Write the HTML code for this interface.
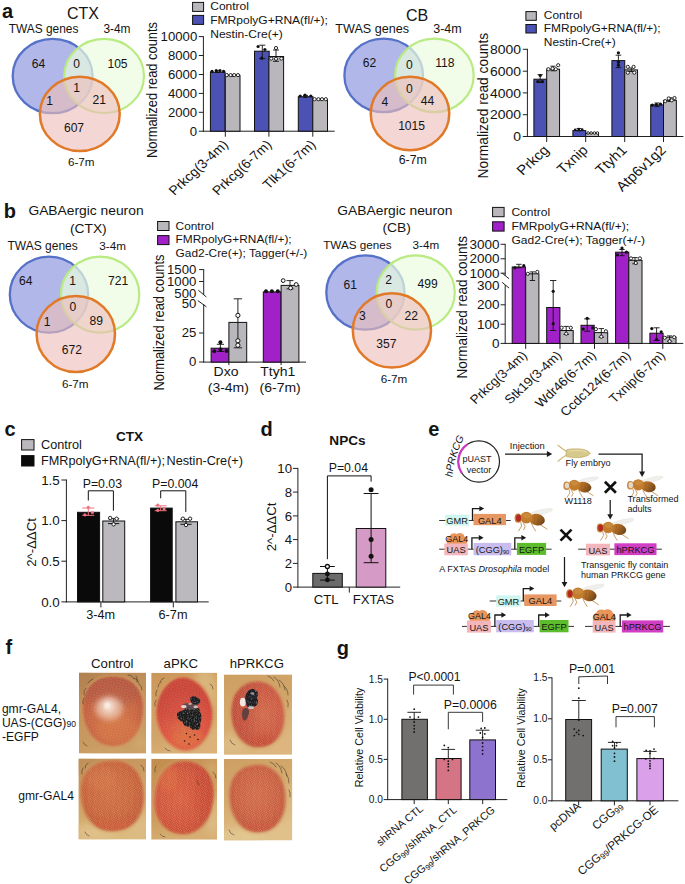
<!DOCTYPE html>
<html><head><meta charset="utf-8"><title>Figure</title>
<style>
html,body{margin:0;padding:0;background:#fff;}
svg{display:block;font-family:"Liberation Sans",sans-serif;}
</style></head><body>
<svg width="685" height="884" viewBox="0 0 685 884">
<rect width="685" height="884" fill="#fff"/>
<defs>
<linearGradient id="abd" x1="0" x2="1" y1="0" y2="0.3"><stop offset="0" stop-color="#c27c2c"/><stop offset="0.5" stop-color="#b06c26"/><stop offset="1" stop-color="#74481a"/></linearGradient>
<g id="flybody">
<ellipse cx="26.9" cy="3.5" rx="12" ry="2.3" transform="rotate(-13 26.9 3.5)" fill="rgba(228,224,217,0.5)" stroke="rgba(185,180,170,0.4)" stroke-width="0.4"/>
<path d="M6.6,13.5 L7.4,17.5 L4.4,22.3 M17.1,14.5 L18.8,18.3 L21.4,22.3 M25.8,16 L32.8,20.5 M9,14 L11,18 L9.5,21" fill="none" stroke="#bf8a4a" stroke-width="0.85" stroke-linecap="round"/>
<ellipse cx="22.8" cy="11.1" rx="8" ry="5.7" transform="rotate(12 22.8 11.1)" fill="url(#abd)"/>
<path d="M21,6.2 L19.8,15 M24,6.4 L23,16 M27,7.4 L26.3,16.3" stroke="#8d5a1f" stroke-width="0.7" fill="none" opacity="0.7"/>
<ellipse cx="12.2" cy="9.1" rx="6" ry="5.9" fill="#c17c2d"/>
<ellipse cx="12.5" cy="7" rx="4" ry="2.6" fill="#cf9444" opacity="0.6"/>
<ellipse cx="3.9" cy="9.6" rx="3.5" ry="4.6" fill="#c38238"/>
</g>
<g id="flyR"><use href="#flybody"/><ellipse cx="4.3" cy="9.5" rx="2.5" ry="3.5" fill="#b5271f"/></g>
<g id="flyW"><use href="#flybody"/><ellipse cx="4.3" cy="9.5" rx="2.4" ry="3.3" fill="#e6d8c6"/></g>
<path id="hp" d="M452.3,477.2 Q453.9,457.2 464.8,436.4"/>
</defs><defs>
<filter id="bl1" x="-30%" y="-30%" width="160%" height="160%"><feGaussianBlur stdDeviation="1.2"/></filter>
<filter id="bl2" x="-40%" y="-40%" width="180%" height="180%"><feGaussianBlur stdDeviation="2.5"/></filter>
<filter id="bl05" x="-20%" y="-20%" width="140%" height="140%"><feGaussianBlur stdDeviation="0.55"/></filter>
<filter id="bl08" x="-20%" y="-20%" width="140%" height="140%"><feGaussianBlur stdDeviation="0.9"/></filter>
<filter id="bl4" x="-60%" y="-60%" width="220%" height="220%"><feGaussianBlur stdDeviation="4.5"/></filter>
<filter id="grain" x="0" y="0" width="100%" height="100%"><feTurbulence type="fractalNoise" baseFrequency="0.38" numOctaves="2" seed="4"/><feColorMatrix type="matrix" values="0 0 0 0 0.40  0 0 0 0 0.10  0 0 0 0 0.06  2.6 2.2 0 0 -2.1"/></filter>
<filter id="grainW" x="0" y="0" width="100%" height="100%"><feTurbulence type="fractalNoise" baseFrequency="0.7" numOctaves="2" seed="11"/><feColorMatrix type="matrix" values="0 0 0 0 1  0 0 0 0 0.95  0 0 0 0 0.9  0 1.8 1.6 0 -1.5"/></filter>
<filter id="grainK" x="0" y="0" width="100%" height="100%"><feTurbulence type="fractalNoise" baseFrequency="0.55" numOctaves="2" seed="21"/><feColorMatrix type="matrix" values="0 0 0 0 0.78  0 0 0 0 0.78  0 0 0 0 0.8  2.2 1.6 0 0 -1.8"/></filter>
<pattern id="omm" width="2.5" height="2.16" patternUnits="userSpaceOnUse" patternTransform="rotate(-14)"><circle cx="0.62" cy="0.54" r="0.5" fill="#f2b888"/><circle cx="1.87" cy="1.62" r="0.5" fill="#f2b888"/></pattern>
<pattern id="omm2" width="3.0" height="2.6" patternUnits="userSpaceOnUse" patternTransform="rotate(10)"><circle cx="0.75" cy="0.65" r="0.5" fill="#fae0c8"/><circle cx="2.25" cy="1.95" r="0.5" fill="#fae0c8"/></pattern>
</defs><text x="1.9" y="17.6" font-size="20" text-anchor="start" font-weight="bold" fill="#141414" >a</text>
<text x="83" y="18.8" font-size="16" text-anchor="middle" fill="#141414" >CTX</text>
<ellipse cx="52.6" cy="76" rx="39.9" ry="37.2" fill="#b1b7e8" stroke="#5672c8" stroke-width="2.3"/>
<ellipse cx="104.1" cy="76" rx="39.9" ry="37.2" fill="rgba(235,252,224,0.7)" stroke="#b8eb82" stroke-width="2.2"/>
<ellipse cx="79.8" cy="113.9" rx="39.9" ry="37.2" fill="rgba(237,189,186,0.62)" stroke="#e17a28" stroke-width="2.5"/>
<text x="8.8" y="32.8" font-size="11.9" text-anchor="start" fill="#141414" >TWAS genes</text>
<text x="103.4" y="32.8" font-size="11.9" text-anchor="start" fill="#141414" >3-4m</text>
<text x="81.3" y="166.4" font-size="11.7" text-anchor="middle" fill="#141414" >6-7m</text>
<text x="38.5" y="67.6" font-size="12.1" text-anchor="middle" fill="#141414" >64</text>
<text x="76.6" y="68.4" font-size="12.1" text-anchor="middle" fill="#141414" >0</text>
<text x="117.5" y="67.6" font-size="12.1" text-anchor="middle" fill="#141414" >105</text>
<text x="76.6" y="92.4" font-size="12.1" text-anchor="middle" fill="#141414" >1</text>
<text x="49.5" y="104.6" font-size="12.1" text-anchor="middle" fill="#141414" >1</text>
<text x="99.3" y="104.1" font-size="12.1" text-anchor="middle" fill="#141414" >21</text>
<text x="74" y="131.9" font-size="12.1" text-anchor="middle" fill="#141414" >607</text>
<line x1="203.4" y1="36.1" x2="203.4" y2="131.7" stroke="#222" stroke-width="1" />
<line x1="198.8" y1="36.6" x2="203.4" y2="36.6" stroke="#222" stroke-width="1" />
<text transform="translate(197.2 40.99) scale(1.08 1)" font-size="12.2" text-anchor="end" fill="#141414" >10000</text>
<line x1="198.8" y1="55.5" x2="203.4" y2="55.5" stroke="#222" stroke-width="1" />
<text transform="translate(197.2 59.89) scale(1.08 1)" font-size="12.2" text-anchor="end" fill="#141414" >8000</text>
<line x1="198.8" y1="74.5" x2="203.4" y2="74.5" stroke="#222" stroke-width="1" />
<text transform="translate(197.2 78.89) scale(1.08 1)" font-size="12.2" text-anchor="end" fill="#141414" >6000</text>
<line x1="198.8" y1="93.4" x2="203.4" y2="93.4" stroke="#222" stroke-width="1" />
<text transform="translate(197.2 97.79) scale(1.08 1)" font-size="12.2" text-anchor="end" fill="#141414" >4000</text>
<line x1="198.8" y1="112.3" x2="203.4" y2="112.3" stroke="#222" stroke-width="1" />
<text transform="translate(197.2 116.69) scale(1.08 1)" font-size="12.2" text-anchor="end" fill="#141414" >2000</text>
<line x1="198.8" y1="131.2" x2="203.4" y2="131.2" stroke="#222" stroke-width="1" />
<text transform="translate(197.2 135.59) scale(1.08 1)" font-size="12.2" text-anchor="end" fill="#141414" >0</text>
<line x1="202.9" y1="131.2" x2="334.7" y2="131.2" stroke="#222" stroke-width="1" />
<text transform="translate(156.6 90) scale(1.1 1) rotate(-90)" font-size="12.9" text-anchor="middle" fill="#141414" >Normalized read counts</text>
<rect x="210.40" y="72.30" width="14.70" height="58.90" fill="#4b52b3" stroke="#111" stroke-width="1" />
<rect x="225.30" y="75.50" width="14.70" height="55.70" fill="#b9b7bb" stroke="#111" stroke-width="1" />
<rect x="254.50" y="51.20" width="14.70" height="80.00" fill="#4b52b3" stroke="#111" stroke-width="1" />
<rect x="268.90" y="56.50" width="14.70" height="74.70" fill="#b9b7bb" stroke="#111" stroke-width="1" />
<rect x="298.30" y="96.70" width="14.70" height="34.50" fill="#4b52b3" stroke="#111" stroke-width="1" />
<rect x="312.80" y="99.40" width="14.70" height="31.80" fill="#b9b7bb" stroke="#111" stroke-width="1" />
<line x1="225.3" y1="131.2" x2="225.3" y2="136.7" stroke="#222" stroke-width="1" />
<line x1="268.9" y1="131.2" x2="268.9" y2="136.7" stroke="#222" stroke-width="1" />
<line x1="312.8" y1="131.2" x2="312.8" y2="136.7" stroke="#222" stroke-width="1" />
<line x1="217.5" y1="70.6" x2="217.5" y2="72.3" stroke="#111" stroke-width="0.9" />
<line x1="215.0" y1="70.6" x2="220.0" y2="70.6" stroke="#111" stroke-width="0.9" />
<line x1="215.0" y1="72.3" x2="220.0" y2="72.3" stroke="#111" stroke-width="0.9" />
<line x1="232.5" y1="74.6" x2="232.5" y2="76.2" stroke="#111" stroke-width="0.9" />
<line x1="230.0" y1="74.6" x2="235.0" y2="74.6" stroke="#111" stroke-width="0.9" />
<line x1="230.0" y1="76.2" x2="235.0" y2="76.2" stroke="#111" stroke-width="0.9" />
<circle cx="212.00" cy="71.30" r="1.6" fill="#111"/>
<circle cx="216.20" cy="70.70" r="1.6" fill="#111"/>
<circle cx="220.00" cy="70.70" r="1.6" fill="#111"/>
<circle cx="223.60" cy="71.30" r="1.6" fill="#111"/>
<circle cx="226.80" cy="75.10" r="1.6" fill="#fff" stroke="#111" stroke-width="0.9"/>
<circle cx="230.60" cy="75.10" r="1.6" fill="#fff" stroke="#111" stroke-width="0.9"/>
<circle cx="234.20" cy="75.10" r="1.6" fill="#fff" stroke="#111" stroke-width="0.9"/>
<circle cx="238.00" cy="75.10" r="1.6" fill="#fff" stroke="#111" stroke-width="0.9"/>
<line x1="262.3" y1="45.2" x2="262.3" y2="58.6" stroke="#111" stroke-width="0.9" />
<line x1="259.3" y1="45.2" x2="265.3" y2="45.2" stroke="#111" stroke-width="0.9" />
<line x1="259.3" y1="58.6" x2="265.3" y2="58.6" stroke="#111" stroke-width="0.9" />
<circle cx="258.10" cy="46.50" r="1.6" fill="#111"/>
<circle cx="264.90" cy="49.50" r="1.6" fill="#111"/>
<circle cx="261.70" cy="58.20" r="1.6" fill="#111"/>
<line x1="276" y1="50" x2="276" y2="61.3" stroke="#111" stroke-width="0.9" />
<line x1="273" y1="50" x2="279" y2="50" stroke="#111" stroke-width="0.9" />
<line x1="273" y1="61.3" x2="279" y2="61.3" stroke="#111" stroke-width="0.9" />
<circle cx="276.00" cy="48.00" r="1.6" fill="#fff" stroke="#111" stroke-width="0.9"/>
<circle cx="271.20" cy="58.60" r="1.6" fill="#fff" stroke="#111" stroke-width="0.9"/>
<circle cx="276.00" cy="58.80" r="1.6" fill="#fff" stroke="#111" stroke-width="0.9"/>
<circle cx="281.40" cy="58.60" r="1.6" fill="#fff" stroke="#111" stroke-width="0.9"/>
<line x1="305.5" y1="95.4" x2="305.5" y2="97.4" stroke="#111" stroke-width="0.9" />
<line x1="303.0" y1="95.4" x2="308.0" y2="95.4" stroke="#111" stroke-width="0.9" />
<line x1="303.0" y1="97.4" x2="308.0" y2="97.4" stroke="#111" stroke-width="0.9" />
<line x1="320" y1="98.6" x2="320" y2="100" stroke="#111" stroke-width="0.9" />
<line x1="317.5" y1="98.6" x2="322.5" y2="98.6" stroke="#111" stroke-width="0.9" />
<line x1="317.5" y1="100" x2="322.5" y2="100" stroke="#111" stroke-width="0.9" />
<circle cx="300.20" cy="96.00" r="1.6" fill="#111"/>
<circle cx="305.00" cy="95.20" r="1.6" fill="#111"/>
<circle cx="310.80" cy="96.00" r="1.6" fill="#111"/>
<circle cx="314.60" cy="99.20" r="1.6" fill="#fff" stroke="#111" stroke-width="0.9"/>
<circle cx="318.40" cy="99.20" r="1.6" fill="#fff" stroke="#111" stroke-width="0.9"/>
<circle cx="322.00" cy="99.20" r="1.6" fill="#fff" stroke="#111" stroke-width="0.9"/>
<circle cx="325.80" cy="99.20" r="1.6" fill="#fff" stroke="#111" stroke-width="0.9"/>
<rect x="192.60" y="2.40" width="11.00" height="9.00" fill="#b9b7bb" stroke="#111" stroke-width="1" />
<rect x="192.60" y="15.40" width="11.00" height="9.00" fill="#4b52b3" stroke="#111" stroke-width="1" />
<text transform="translate(210.2 10.3) scale(1.08 1)" font-size="11.15" text-anchor="start" fill="#141414" >Control</text>
<text transform="translate(210.2 23.8) scale(1.08 1)" font-size="11.15" text-anchor="start" fill="#141414" >FMRpolyG+RNA(fl/+);</text>
<text transform="translate(210.2 38) scale(1.08 1)" font-size="11.15" text-anchor="start" fill="#141414" >Nestin-Cre(+)</text>
<text transform="translate(229 145.5) scale(1.08 1) rotate(-45)" font-size="13" text-anchor="end" fill="#141414" >Prkcg(3-4m)</text>
<text transform="translate(272.5 145.5) scale(1.08 1) rotate(-45)" font-size="13" text-anchor="end" fill="#141414" >Prkcg(6-7m)</text>
<text transform="translate(316.5 145.5) scale(1.08 1) rotate(-45)" font-size="13" text-anchor="end" fill="#141414" >Tlk1(6-7m)</text>
<text x="417" y="21" font-size="16" text-anchor="middle" fill="#141414" >CB</text>
<ellipse cx="383.7" cy="75.4" rx="39.3" ry="36.7" fill="#b1b7e8" stroke="#5672c8" stroke-width="2.3"/>
<ellipse cx="434.4" cy="75.4" rx="39.3" ry="36.7" fill="rgba(235,252,224,0.7)" stroke="#b8eb82" stroke-width="2.2"/>
<ellipse cx="410" cy="113.5" rx="39.3" ry="36.7" fill="rgba(237,189,186,0.62)" stroke="#e17a28" stroke-width="2.5"/>
<text x="335.3" y="33.2" font-size="12.6" text-anchor="start" fill="#141414" >TWAS genes</text>
<text x="433.2" y="33.2" font-size="12.5" text-anchor="start" fill="#141414" >3-4m</text>
<text x="412.8" y="164" font-size="12.3" text-anchor="middle" fill="#141414" >6-7m</text>
<text x="369.4" y="66.6" font-size="12.1" text-anchor="middle" fill="#141414" >62</text>
<text x="409.4" y="68.8" font-size="12.1" text-anchor="middle" fill="#141414" >0</text>
<text x="444.9" y="66.6" font-size="12.1" text-anchor="middle" fill="#141414" >118</text>
<text x="409.4" y="93.3" font-size="12.1" text-anchor="middle" fill="#141414" >0</text>
<text x="384.9" y="106.0" font-size="12.1" text-anchor="middle" fill="#141414" >4</text>
<text x="427.4" y="104.7" font-size="12.1" text-anchor="middle" fill="#141414" >44</text>
<text x="411.6" y="129.9" font-size="12.1" text-anchor="middle" fill="#141414" >1015</text>
<line x1="527.4" y1="48.8" x2="527.4" y2="137.0" stroke="#222" stroke-width="1" />
<line x1="522.8" y1="49.3" x2="527.4" y2="49.3" stroke="#222" stroke-width="1" />
<text transform="translate(521 53.94) scale(1.08 1)" font-size="12.9" text-anchor="end" fill="#141414" >8000</text>
<line x1="522.8" y1="71.2" x2="527.4" y2="71.2" stroke="#222" stroke-width="1" />
<text transform="translate(521 75.84) scale(1.08 1)" font-size="12.9" text-anchor="end" fill="#141414" >6000</text>
<line x1="522.8" y1="92.9" x2="527.4" y2="92.9" stroke="#222" stroke-width="1" />
<text transform="translate(521 97.54) scale(1.08 1)" font-size="12.9" text-anchor="end" fill="#141414" >4000</text>
<line x1="522.8" y1="114.7" x2="527.4" y2="114.7" stroke="#222" stroke-width="1" />
<text transform="translate(521 119.34) scale(1.08 1)" font-size="12.9" text-anchor="end" fill="#141414" >2000</text>
<line x1="522.8" y1="136.5" x2="527.4" y2="136.5" stroke="#222" stroke-width="1" />
<text transform="translate(521 141.14) scale(1.08 1)" font-size="12.9" text-anchor="end" fill="#141414" >0</text>
<line x1="526.9" y1="136.5" x2="683.4" y2="136.5" stroke="#222" stroke-width="1" />
<text transform="translate(488.4 105.6) scale(1.1 1) rotate(-90)" font-size="13.8" text-anchor="middle" fill="#141414" >Normalized read counts</text>
<rect x="533.90" y="79.20" width="12.85" height="57.30" fill="#4b52b3" stroke="#111" stroke-width="1" />
<rect x="546.70" y="69.20" width="12.85" height="67.30" fill="#b9b7bb" stroke="#111" stroke-width="1" />
<rect x="572.90" y="130.60" width="12.85" height="5.90" fill="#4b52b3" stroke="#111" stroke-width="1" />
<rect x="585.70" y="133.40" width="12.85" height="3.10" fill="#b9b7bb" stroke="#111" stroke-width="1" />
<rect x="611.90" y="60.60" width="12.85" height="75.90" fill="#4b52b3" stroke="#111" stroke-width="1" />
<rect x="624.70" y="69.90" width="12.85" height="66.60" fill="#b9b7bb" stroke="#111" stroke-width="1" />
<rect x="650.70" y="104.90" width="12.85" height="31.60" fill="#4b52b3" stroke="#111" stroke-width="1" />
<rect x="663.50" y="100.30" width="12.85" height="36.20" fill="#b9b7bb" stroke="#111" stroke-width="1" />
<line x1="546.7" y1="136.5" x2="546.7" y2="142.0" stroke="#222" stroke-width="1" />
<line x1="585.7" y1="136.5" x2="585.7" y2="142.0" stroke="#222" stroke-width="1" />
<line x1="624.7" y1="136.5" x2="624.7" y2="142.0" stroke="#222" stroke-width="1" />
<line x1="663.5" y1="136.5" x2="663.5" y2="142.0" stroke="#222" stroke-width="1" />
<line x1="540.2" y1="74.6" x2="540.2" y2="82.5" stroke="#111" stroke-width="0.9" />
<line x1="537.6" y1="74.6" x2="542.8000000000001" y2="74.6" stroke="#111" stroke-width="0.9" />
<line x1="537.6" y1="82.5" x2="542.8000000000001" y2="82.5" stroke="#111" stroke-width="0.9" />
<circle cx="540.20" cy="75.50" r="1.6" fill="#111"/>
<circle cx="537.80" cy="81.60" r="1.6" fill="#111"/>
<circle cx="542.50" cy="81.60" r="1.6" fill="#111"/>
<line x1="553" y1="66.2" x2="553" y2="70.8" stroke="#111" stroke-width="0.9" />
<line x1="550.4" y1="66.2" x2="555.6" y2="66.2" stroke="#111" stroke-width="0.9" />
<line x1="550.4" y1="70.8" x2="555.6" y2="70.8" stroke="#111" stroke-width="0.9" />
<circle cx="548.40" cy="69.20" r="1.6" fill="#fff" stroke="#111" stroke-width="0.9"/>
<circle cx="552.60" cy="68.50" r="1.6" fill="#fff" stroke="#111" stroke-width="0.9"/>
<circle cx="555.80" cy="69.20" r="1.6" fill="#fff" stroke="#111" stroke-width="0.9"/>
<circle cx="558.20" cy="65.20" r="1.6" fill="#fff" stroke="#111" stroke-width="0.9"/>
<line x1="579" y1="128.5" x2="579" y2="130.8" stroke="#111" stroke-width="0.9" />
<line x1="576.6" y1="128.5" x2="581.4" y2="128.5" stroke="#111" stroke-width="0.9" />
<line x1="576.6" y1="130.8" x2="581.4" y2="130.8" stroke="#111" stroke-width="0.9" />
<circle cx="575.20" cy="129.80" r="1.3" fill="#111"/>
<circle cx="578.70" cy="129.00" r="1.3" fill="#111"/>
<circle cx="582.20" cy="129.60" r="1.3" fill="#111"/>
<circle cx="588.10" cy="133.00" r="1.3" fill="#fff" stroke="#111" stroke-width="0.9"/>
<circle cx="591.10" cy="133.00" r="1.3" fill="#fff" stroke="#111" stroke-width="0.9"/>
<circle cx="594.40" cy="133.00" r="1.3" fill="#fff" stroke="#111" stroke-width="0.9"/>
<circle cx="597.40" cy="133.00" r="1.3" fill="#fff" stroke="#111" stroke-width="0.9"/>
<line x1="618.4" y1="55.2" x2="618.4" y2="67.6" stroke="#111" stroke-width="0.9" />
<line x1="615.6" y1="55.2" x2="621.1999999999999" y2="55.2" stroke="#111" stroke-width="0.9" />
<line x1="615.6" y1="67.6" x2="621.1999999999999" y2="67.6" stroke="#111" stroke-width="0.9" />
<circle cx="618.40" cy="52.80" r="1.6" fill="#111"/>
<circle cx="618.40" cy="62.20" r="1.6" fill="#111"/>
<circle cx="618.40" cy="65.20" r="1.6" fill="#111"/>
<line x1="631.3" y1="68" x2="631.3" y2="71.5" stroke="#111" stroke-width="0.9" />
<line x1="628.6999999999999" y1="68" x2="633.9" y2="68" stroke="#111" stroke-width="0.9" />
<line x1="628.6999999999999" y1="71.5" x2="633.9" y2="71.5" stroke="#111" stroke-width="0.9" />
<circle cx="627.80" cy="66.90" r="1.6" fill="#fff" stroke="#111" stroke-width="0.9"/>
<circle cx="633.60" cy="66.90" r="1.6" fill="#fff" stroke="#111" stroke-width="0.9"/>
<circle cx="627.80" cy="72.70" r="1.6" fill="#fff" stroke="#111" stroke-width="0.9"/>
<circle cx="634.30" cy="72.70" r="1.6" fill="#fff" stroke="#111" stroke-width="0.9"/>
<line x1="657" y1="103" x2="657" y2="106.6" stroke="#111" stroke-width="0.9" />
<line x1="654.4" y1="103" x2="659.6" y2="103" stroke="#111" stroke-width="0.9" />
<line x1="654.4" y1="106.6" x2="659.6" y2="106.6" stroke="#111" stroke-width="0.9" />
<circle cx="652.30" cy="105.20" r="1.6" fill="#111"/>
<circle cx="656.30" cy="104.60" r="1.6" fill="#111"/>
<circle cx="660.50" cy="104.00" r="1.6" fill="#111"/>
<line x1="670" y1="97.8" x2="670" y2="101.5" stroke="#111" stroke-width="0.9" />
<line x1="667.4" y1="97.8" x2="672.6" y2="97.8" stroke="#111" stroke-width="0.9" />
<line x1="667.4" y1="101.5" x2="672.6" y2="101.5" stroke="#111" stroke-width="0.9" />
<circle cx="665.20" cy="101.20" r="1.6" fill="#fff" stroke="#111" stroke-width="0.9"/>
<circle cx="668.70" cy="98.40" r="1.6" fill="#fff" stroke="#111" stroke-width="0.9"/>
<circle cx="671.70" cy="100.30" r="1.6" fill="#fff" stroke="#111" stroke-width="0.9"/>
<circle cx="674.50" cy="98.00" r="1.6" fill="#fff" stroke="#111" stroke-width="0.9"/>
<rect x="525.90" y="11.60" width="10.40" height="8.70" fill="#b9b7bb" stroke="#111" stroke-width="1" />
<rect x="525.90" y="24.50" width="10.40" height="8.50" fill="#4b52b3" stroke="#111" stroke-width="1" />
<text transform="translate(543.8 18.9) scale(1.08 1)" font-size="11.05" text-anchor="start" fill="#141414" >Control</text>
<text transform="translate(543.8 32.4) scale(1.08 1)" font-size="11.05" text-anchor="start" fill="#141414" >FMRpolyG+RNA(fl/+);</text>
<text transform="translate(543.8 46.2) scale(1.08 1)" font-size="11.05" text-anchor="start" fill="#141414" >Nestin-Cre(+)</text>
<text transform="translate(549.8 151) scale(1.08 1) rotate(-45)" font-size="13.8" text-anchor="end" fill="#141414" >Prkcg</text>
<text transform="translate(588.8 151) scale(1.08 1) rotate(-45)" font-size="13.8" text-anchor="end" fill="#141414" >Txnip</text>
<text transform="translate(627.8 151) scale(1.08 1) rotate(-45)" font-size="13.8" text-anchor="end" fill="#141414" >Ttyh1</text>
<text transform="translate(666.8 151) scale(1.08 1) rotate(-45)" font-size="13.8" text-anchor="end" fill="#141414" >Atp6v1g2</text>
<text x="3.7" y="217.7" font-size="20" text-anchor="start" font-weight="bold" fill="#141414" >b</text>
<text transform="translate(86 215.2) scale(1.08 1)" font-size="12.8" text-anchor="middle" fill="#141414" >GABAergic neuron</text>
<text transform="translate(88.3 232.7) scale(1.08 1)" font-size="12.8" text-anchor="middle" fill="#141414" >(CTX)</text>
<ellipse cx="49" cy="294.6" rx="39.2" ry="38" fill="#b1b7e8" stroke="#5672c8" stroke-width="2.3"/>
<ellipse cx="100.1" cy="294.6" rx="39.2" ry="38" fill="rgba(235,252,224,0.7)" stroke="#b8eb82" stroke-width="2.2"/>
<ellipse cx="75.8" cy="334" rx="39.2" ry="38" fill="rgba(237,189,186,0.62)" stroke="#e17a28" stroke-width="2.5"/>
<text x="7.5" y="249.8" font-size="12.0" text-anchor="start" fill="#141414" >TWAS genes</text>
<text x="99.3" y="249.8" font-size="11.7" text-anchor="start" fill="#141414" >3-4m</text>
<text x="75.2" y="387.6" font-size="11.7" text-anchor="middle" fill="#141414" >6-7m</text>
<text x="25.8" y="285.3" font-size="12.1" text-anchor="middle" fill="#141414" >64</text>
<text x="72.7" y="285.3" font-size="12.1" text-anchor="middle" fill="#141414" >1</text>
<text x="118.2" y="285.3" font-size="12.1" text-anchor="middle" fill="#141414" >721</text>
<text x="72.9" y="310.9" font-size="12.1" text-anchor="middle" fill="#141414" >0</text>
<text x="47.1" y="325.8" font-size="12.1" text-anchor="middle" fill="#141414" >1</text>
<text x="96.3" y="324.7" font-size="12.1" text-anchor="middle" fill="#141414" >89</text>
<text x="71.8" y="353.9" font-size="12.1" text-anchor="middle" fill="#141414" >672</text>
<line x1="203.7" y1="269.1" x2="203.7" y2="294.6" stroke="#222" stroke-width="1" />
<line x1="203.7" y1="304.2" x2="203.7" y2="362.6" stroke="#222" stroke-width="1" />
<line x1="199.1" y1="269.6" x2="203.7" y2="269.6" stroke="#222" stroke-width="1" />
<text transform="translate(196.3 274.0) scale(1.08 1)" font-size="12.2" text-anchor="end" fill="#141414" >1500</text>
<line x1="199.1" y1="281.5" x2="203.7" y2="281.5" stroke="#222" stroke-width="1" />
<text transform="translate(196.3 285.9) scale(1.08 1)" font-size="12.2" text-anchor="end" fill="#141414" >1000</text>
<text transform="translate(196.3 298.1) scale(1.08 1)" font-size="12.2" text-anchor="end" fill="#141414" >500</text>
<text transform="translate(196.3 308.1) scale(1.08 1)" font-size="12.2" text-anchor="end" fill="#141414" >50</text>
<line x1="199.1" y1="333" x2="203.7" y2="333" stroke="#222" stroke-width="1" />
<text transform="translate(196.3 337.4) scale(1.08 1)" font-size="12.2" text-anchor="end" fill="#141414" >25</text>
<line x1="199.1" y1="362" x2="203.7" y2="362" stroke="#222" stroke-width="1" />
<text transform="translate(196.3 366.4) scale(1.08 1)" font-size="12.2" text-anchor="end" fill="#141414" >0</text>
<line x1="198.3" y1="290.2" x2="206.4" y2="297" stroke="#222" stroke-width="1" />
<line x1="197.8" y1="300.6" x2="206.4" y2="306.8" stroke="#222" stroke-width="1" />
<line x1="203.2" y1="362.1" x2="306" y2="362.1" stroke="#222" stroke-width="1" />
<text transform="translate(164 322.5) scale(1.1 1) rotate(-90)" font-size="12.9" text-anchor="middle" fill="#141414" >Normalized read counts</text>
<rect x="211.10" y="348.20" width="17.80" height="13.90" fill="#a121c9" stroke="#111" stroke-width="1" />
<rect x="228.90" y="322.40" width="17.80" height="39.70" fill="#b9b7bb" stroke="#111" stroke-width="1" />
<rect x="263.30" y="291.90" width="17.80" height="70.20" fill="#a121c9" stroke="#111" stroke-width="1" />
<rect x="281.10" y="285.40" width="17.80" height="76.70" fill="#b9b7bb" stroke="#111" stroke-width="1" />
<line x1="228.9" y1="362.1" x2="228.9" y2="365.1" stroke="#222" stroke-width="1" />
<line x1="281.1" y1="362.1" x2="281.1" y2="365.1" stroke="#222" stroke-width="1" />
<line x1="220.4" y1="344.3" x2="220.4" y2="351.5" stroke="#111" stroke-width="0.9" />
<line x1="216.8" y1="344.3" x2="224.0" y2="344.3" stroke="#111" stroke-width="0.9" />
<line x1="216.8" y1="351.5" x2="224.0" y2="351.5" stroke="#111" stroke-width="0.9" />
<circle cx="220.40" cy="342.20" r="2" fill="#111"/>
<circle cx="214.30" cy="351.30" r="2" fill="#111"/>
<circle cx="220.40" cy="349.60" r="2" fill="#111"/>
<circle cx="226.50" cy="351.00" r="2" fill="#111"/>
<line x1="237.9" y1="298.8" x2="237.9" y2="347.8" stroke="#111" stroke-width="0.9" />
<line x1="233.70000000000002" y1="298.8" x2="242.1" y2="298.8" stroke="#111" stroke-width="0.9" />
<line x1="233.70000000000002" y1="347.8" x2="242.1" y2="347.8" stroke="#111" stroke-width="0.9" />
<circle cx="237.90" cy="315.40" r="2.1" fill="#fff" stroke="#111" stroke-width="1"/>
<circle cx="237.90" cy="340.80" r="2.1" fill="#fff" stroke="#111" stroke-width="1"/>
<circle cx="237.90" cy="345.20" r="2.1" fill="#fff" stroke="#111" stroke-width="1"/>
<circle cx="266.00" cy="291.30" r="2" fill="#111"/>
<circle cx="271.90" cy="291.30" r="2" fill="#111"/>
<circle cx="277.80" cy="291.30" r="2" fill="#111"/>
<line x1="290" y1="280.6" x2="290" y2="288.9" stroke="#111" stroke-width="0.9" />
<line x1="286.5" y1="280.6" x2="293.5" y2="280.6" stroke="#111" stroke-width="0.9" />
<line x1="286.5" y1="288.9" x2="293.5" y2="288.9" stroke="#111" stroke-width="0.9" />
<circle cx="283.20" cy="280.60" r="1.9" fill="#fff" stroke="#111" stroke-width="1"/>
<circle cx="290.60" cy="288.00" r="1.9" fill="#fff" stroke="#111" stroke-width="1"/>
<circle cx="296.20" cy="284.50" r="1.9" fill="#fff" stroke="#111" stroke-width="1"/>
<rect x="157.60" y="221.50" width="11.40" height="9.00" fill="#b9b7bb" stroke="#111" stroke-width="1" />
<rect x="157.60" y="235.60" width="11.40" height="9.00" fill="#a121c9" stroke="#111" stroke-width="1" />
<text transform="translate(175.6 229.8) scale(1.08 1)" font-size="11.0" text-anchor="start" fill="#141414" >Control</text>
<text transform="translate(175.6 243.2) scale(1.08 1)" font-size="11.0" text-anchor="start" fill="#141414" >FMRpolyG+RNA(fl/+);</text>
<text transform="translate(175.6 256.8) scale(1.08 1)" font-size="11.0" text-anchor="start" fill="#141414" >Gad2-Cre(+); Tagger(+/-)</text>
<text transform="translate(226 375.8) scale(1.08 1)" font-size="12.95" text-anchor="middle" fill="#141414" >Dxo</text>
<text transform="translate(228.3 391.8) scale(1.08 1)" font-size="12.95" text-anchor="middle" fill="#141414" >(3-4m)</text>
<text transform="translate(277.8 375.8) scale(1.08 1)" font-size="12.95" text-anchor="middle" fill="#141414" >Ttyh1</text>
<text transform="translate(280.2 391.8) scale(1.08 1)" font-size="12.95" text-anchor="middle" fill="#141414" >(6-7m)</text>
<text transform="translate(394.9 214.5) scale(1.08 1)" font-size="12.8" text-anchor="middle" fill="#141414" >GABAergic neuron</text>
<text transform="translate(396.7 231.5) scale(1.08 1)" font-size="12.8" text-anchor="middle" fill="#141414" >(CB)</text>
<ellipse cx="365.4" cy="292.5" rx="39.1" ry="37.2" fill="#b1b7e8" stroke="#5672c8" stroke-width="2.3"/>
<ellipse cx="415.7" cy="292.5" rx="39.1" ry="37.2" fill="rgba(235,252,224,0.7)" stroke="#b8eb82" stroke-width="2.2"/>
<ellipse cx="391.9" cy="330.4" rx="39.1" ry="37.2" fill="rgba(237,189,186,0.62)" stroke="#e17a28" stroke-width="2.5"/>
<text x="323.2" y="249.4" font-size="11.7" text-anchor="start" fill="#141414" >TWAS genes</text>
<text x="412.5" y="249.4" font-size="11.7" text-anchor="start" fill="#141414" >3-4m</text>
<text x="394" y="383" font-size="11.7" text-anchor="middle" fill="#141414" >6-7m</text>
<text x="350.2" y="289.1" font-size="12.1" text-anchor="middle" fill="#141414" >61</text>
<text x="388.5" y="283.8" font-size="12.1" text-anchor="middle" fill="#141414" >2</text>
<text x="427.7" y="287.5" font-size="12.1" text-anchor="middle" fill="#141414" >499</text>
<text x="388.8" y="308.3" font-size="12.1" text-anchor="middle" fill="#141414" >0</text>
<text x="362.3" y="320.4" font-size="12.1" text-anchor="middle" fill="#141414" >3</text>
<text x="411.3" y="319.9" font-size="12.1" text-anchor="middle" fill="#141414" >22</text>
<text x="386.3" y="347.7" font-size="12.1" text-anchor="middle" fill="#141414" >357</text>
<line x1="505.2" y1="243.8" x2="505.2" y2="275.9" stroke="#222" stroke-width="1" />
<line x1="505.2" y1="285.2" x2="505.2" y2="343.9" stroke="#222" stroke-width="1" />
<line x1="500.59999999999997" y1="244.3" x2="505.2" y2="244.3" stroke="#222" stroke-width="1" />
<text transform="translate(499.5 248.8) scale(1.08 1)" font-size="12.5" text-anchor="end" fill="#141414" >3000</text>
<line x1="500.59999999999997" y1="258.8" x2="505.2" y2="258.8" stroke="#222" stroke-width="1" />
<text transform="translate(499.5 263.3) scale(1.08 1)" font-size="12.5" text-anchor="end" fill="#141414" >2000</text>
<line x1="500.59999999999997" y1="273.2" x2="505.2" y2="273.2" stroke="#222" stroke-width="1" />
<text transform="translate(499.5 277.7) scale(1.08 1)" font-size="12.5" text-anchor="end" fill="#141414" >1000</text>
<text transform="translate(499.5 290.1) scale(1.08 1)" font-size="12.5" text-anchor="end" fill="#141414" >300</text>
<line x1="500.59999999999997" y1="304.8" x2="505.2" y2="304.8" stroke="#222" stroke-width="1" />
<text transform="translate(499.5 309.3) scale(1.08 1)" font-size="12.5" text-anchor="end" fill="#141414" >200</text>
<line x1="500.59999999999997" y1="324.2" x2="505.2" y2="324.2" stroke="#222" stroke-width="1" />
<text transform="translate(499.5 328.7) scale(1.08 1)" font-size="12.5" text-anchor="end" fill="#141414" >100</text>
<line x1="500.59999999999997" y1="343.4" x2="505.2" y2="343.4" stroke="#222" stroke-width="1" />
<text transform="translate(499.5 347.9) scale(1.08 1)" font-size="12.5" text-anchor="end" fill="#141414" >0</text>
<line x1="502.1" y1="273" x2="509.1" y2="278.8" stroke="#222" stroke-width="1" />
<line x1="502.1" y1="282.3" x2="509.1" y2="288.1" stroke="#222" stroke-width="1" />
<line x1="504.7" y1="343.4" x2="683.3" y2="343.4" stroke="#222" stroke-width="1" />
<text transform="translate(467.3 307.2) scale(1.1 1) rotate(-90)" font-size="13.5" text-anchor="middle" fill="#141414" >Normalized read counts</text>
<rect x="512.20" y="267.00" width="13.20" height="76.40" fill="#a121c9" stroke="#111" stroke-width="1" />
<rect x="525.70" y="273.80" width="13.20" height="69.60" fill="#b9b7bb" stroke="#111" stroke-width="1" />
<rect x="546.70" y="307.50" width="13.20" height="35.90" fill="#a121c9" stroke="#111" stroke-width="1" />
<rect x="560.00" y="330.50" width="13.20" height="12.90" fill="#b9b7bb" stroke="#111" stroke-width="1" />
<rect x="581.00" y="325.30" width="13.20" height="18.10" fill="#a121c9" stroke="#111" stroke-width="1" />
<rect x="594.50" y="332.60" width="13.20" height="10.80" fill="#b9b7bb" stroke="#111" stroke-width="1" />
<rect x="615.60" y="252.20" width="13.20" height="91.20" fill="#a121c9" stroke="#111" stroke-width="1" />
<rect x="628.80" y="260.30" width="13.20" height="83.10" fill="#b9b7bb" stroke="#111" stroke-width="1" />
<rect x="649.90" y="333.20" width="13.20" height="10.20" fill="#a121c9" stroke="#111" stroke-width="1" />
<rect x="662.80" y="337.20" width="13.20" height="6.20" fill="#b9b7bb" stroke="#111" stroke-width="1" />
<line x1="525.7" y1="343.4" x2="525.7" y2="348.9" stroke="#222" stroke-width="1" />
<line x1="560" y1="343.4" x2="560" y2="348.9" stroke="#222" stroke-width="1" />
<line x1="594.5" y1="343.4" x2="594.5" y2="348.9" stroke="#222" stroke-width="1" />
<line x1="628.8" y1="343.4" x2="628.8" y2="348.9" stroke="#222" stroke-width="1" />
<line x1="662.8" y1="343.4" x2="662.8" y2="348.9" stroke="#222" stroke-width="1" />
<line x1="518.9" y1="264.3" x2="518.9" y2="267.8" stroke="#111" stroke-width="0.9" />
<line x1="516.1999999999999" y1="264.3" x2="521.6" y2="264.3" stroke="#111" stroke-width="0.9" />
<line x1="516.1999999999999" y1="267.8" x2="521.6" y2="267.8" stroke="#111" stroke-width="0.9" />
<circle cx="514.90" cy="267.80" r="1.6" fill="#111"/>
<circle cx="523.80" cy="265.70" r="1.6" fill="#111"/>
<line x1="532.4" y1="271.9" x2="532.4" y2="280.5" stroke="#111" stroke-width="0.9" />
<line x1="529.6999999999999" y1="271.9" x2="535.1" y2="271.9" stroke="#111" stroke-width="0.9" />
<line x1="529.6999999999999" y1="280.5" x2="535.1" y2="280.5" stroke="#111" stroke-width="0.9" />
<circle cx="527.80" cy="273.80" r="1.6" fill="#fff" stroke="#111" stroke-width="0.9"/>
<circle cx="537.30" cy="271.90" r="1.6" fill="#fff" stroke="#111" stroke-width="0.9"/>
<line x1="553.2" y1="280.5" x2="553.2" y2="330.5" stroke="#111" stroke-width="0.9" />
<line x1="550.0" y1="280.5" x2="556.4000000000001" y2="280.5" stroke="#111" stroke-width="0.9" />
<line x1="550.0" y1="330.5" x2="556.4000000000001" y2="330.5" stroke="#111" stroke-width="0.9" />
<circle cx="553.20" cy="291.30" r="1.6" fill="#111"/>
<circle cx="553.20" cy="323.70" r="1.6" fill="#111"/>
<line x1="566.2" y1="326.4" x2="566.2" y2="334.5" stroke="#111" stroke-width="0.9" />
<line x1="563.5" y1="326.4" x2="568.9000000000001" y2="326.4" stroke="#111" stroke-width="0.9" />
<line x1="563.5" y1="334.5" x2="568.9000000000001" y2="334.5" stroke="#111" stroke-width="0.9" />
<circle cx="561.60" cy="327.80" r="1.6" fill="#fff" stroke="#111" stroke-width="0.9"/>
<circle cx="570.80" cy="327.80" r="1.6" fill="#fff" stroke="#111" stroke-width="0.9"/>
<circle cx="566.20" cy="333.70" r="1.6" fill="#fff" stroke="#111" stroke-width="0.9"/>
<line x1="587.2" y1="318.9" x2="587.2" y2="331.3" stroke="#111" stroke-width="0.9" />
<line x1="584.2" y1="318.9" x2="590.2" y2="318.9" stroke="#111" stroke-width="0.9" />
<line x1="584.2" y1="331.3" x2="590.2" y2="331.3" stroke="#111" stroke-width="0.9" />
<circle cx="587.20" cy="318.30" r="1.6" fill="#111"/>
<circle cx="583.20" cy="329.10" r="1.6" fill="#111"/>
<circle cx="592.60" cy="327.80" r="1.6" fill="#111"/>
<line x1="601.3" y1="328.6" x2="601.3" y2="337.2" stroke="#111" stroke-width="0.9" />
<line x1="598.5999999999999" y1="328.6" x2="604.0" y2="328.6" stroke="#111" stroke-width="0.9" />
<line x1="598.5999999999999" y1="337.2" x2="604.0" y2="337.2" stroke="#111" stroke-width="0.9" />
<circle cx="595.90" cy="329.10" r="1.6" fill="#fff" stroke="#111" stroke-width="0.9"/>
<circle cx="605.90" cy="331.30" r="1.6" fill="#fff" stroke="#111" stroke-width="0.9"/>
<circle cx="601.30" cy="336.70" r="1.6" fill="#fff" stroke="#111" stroke-width="0.9"/>
<line x1="622" y1="249.5" x2="622" y2="255.7" stroke="#111" stroke-width="0.9" />
<line x1="619.3" y1="249.5" x2="624.7" y2="249.5" stroke="#111" stroke-width="0.9" />
<line x1="619.3" y1="255.7" x2="624.7" y2="255.7" stroke="#111" stroke-width="0.9" />
<circle cx="622.00" cy="248.10" r="1.6" fill="#111"/>
<circle cx="617.50" cy="254.90" r="1.6" fill="#111"/>
<circle cx="626.40" cy="252.20" r="1.6" fill="#111"/>
<line x1="635" y1="257.6" x2="635" y2="263.8" stroke="#111" stroke-width="0.9" />
<line x1="632.3" y1="257.6" x2="637.7" y2="257.6" stroke="#111" stroke-width="0.9" />
<line x1="632.3" y1="263.8" x2="637.7" y2="263.8" stroke="#111" stroke-width="0.9" />
<circle cx="631.00" cy="258.40" r="1.6" fill="#fff" stroke="#111" stroke-width="0.9"/>
<circle cx="635.80" cy="263.00" r="1.6" fill="#fff" stroke="#111" stroke-width="0.9"/>
<circle cx="639.90" cy="258.40" r="1.6" fill="#fff" stroke="#111" stroke-width="0.9"/>
<line x1="656.6" y1="327.8" x2="656.6" y2="340.5" stroke="#111" stroke-width="0.9" />
<line x1="653.6" y1="327.8" x2="659.6" y2="327.8" stroke="#111" stroke-width="0.9" />
<line x1="653.6" y1="340.5" x2="659.6" y2="340.5" stroke="#111" stroke-width="0.9" />
<circle cx="651.80" cy="328.60" r="1.6" fill="#111"/>
<circle cx="661.20" cy="331.80" r="1.6" fill="#111"/>
<circle cx="656.60" cy="339.40" r="1.6" fill="#111"/>
<line x1="669.6" y1="335.9" x2="669.6" y2="341.3" stroke="#111" stroke-width="0.9" />
<line x1="666.9" y1="335.9" x2="672.3000000000001" y2="335.9" stroke="#111" stroke-width="0.9" />
<line x1="666.9" y1="341.3" x2="672.3000000000001" y2="341.3" stroke="#111" stroke-width="0.9" />
<circle cx="664.70" cy="337.80" r="1.6" fill="#fff" stroke="#111" stroke-width="0.9"/>
<circle cx="674.20" cy="337.20" r="1.6" fill="#fff" stroke="#111" stroke-width="0.9"/>
<circle cx="669.60" cy="341.30" r="1.6" fill="#fff" stroke="#111" stroke-width="0.9"/>
<rect x="492.60" y="207.40" width="11.50" height="9.30" fill="#b9b7bb" stroke="#111" stroke-width="1" />
<rect x="492.60" y="221.80" width="11.50" height="9.30" fill="#a121c9" stroke="#111" stroke-width="1" />
<text transform="translate(511.4 216.2) scale(1.08 1)" font-size="11.15" text-anchor="start" fill="#141414" >Control</text>
<text transform="translate(511.4 229.6) scale(1.08 1)" font-size="11.15" text-anchor="start" fill="#141414" >FMRpolyG+RNA(fl/+);</text>
<text transform="translate(511.4 243.8) scale(1.08 1)" font-size="11.15" text-anchor="start" fill="#141414" >Gad2-Cre(+); Tagger(+/-)</text>
<text transform="translate(528 356.2) scale(1.08 1) rotate(-45)" font-size="12.5" text-anchor="end" fill="#141414" >Prkcg(3-4m)</text>
<text transform="translate(562.5 356.2) scale(1.08 1) rotate(-45)" font-size="12.5" text-anchor="end" fill="#141414" >Stk19(3-4m)</text>
<text transform="translate(597 356.2) scale(1.08 1) rotate(-45)" font-size="12.5" text-anchor="end" fill="#141414" >Wdr46(6-7m)</text>
<text transform="translate(631.5 356.2) scale(1.08 1) rotate(-45)" font-size="12.5" text-anchor="end" fill="#141414" >Ccdc124(6-7m)</text>
<text transform="translate(666 356.2) scale(1.08 1) rotate(-45)" font-size="12.5" text-anchor="end" fill="#141414" >Txnip(6-7m)</text>
<text x="4.5" y="436.1" font-size="20" text-anchor="start" font-weight="bold" fill="#141414" >c</text>
<text x="129.6" y="441" font-size="13.6" text-anchor="middle" font-weight="bold" fill="#141414" >CTX</text>
<rect x="21.60" y="439.60" width="12.40" height="10.40" fill="#bbb9bd" stroke="#111" stroke-width="1" />
<rect x="21.60" y="455.60" width="12.40" height="10.40" fill="#0a0a0a" stroke="#111" stroke-width="1" />
<text x="41" y="448.6" font-size="12.7" text-anchor="start" fill="#141414" >Control</text>
<text x="41" y="464.9" font-size="12.7" text-anchor="start" fill="#141414" >FMRpolyG+RNA(fl/+);</text>
<text x="166.5" y="464.9" font-size="12.7" text-anchor="start" fill="#141414" >Nestin-Cre(+)</text>
<line x1="66.4" y1="479.5" x2="66.4" y2="602.4" stroke="#222" stroke-width="1" />
<line x1="61.400000000000006" y1="480" x2="66.4" y2="480" stroke="#222" stroke-width="1" />
<text x="59.8" y="484.82" font-size="13.4" text-anchor="end" fill="#141414" >1.5</text>
<line x1="61.400000000000006" y1="520.6" x2="66.4" y2="520.6" stroke="#222" stroke-width="1" />
<text x="59.8" y="525.42" font-size="13.4" text-anchor="end" fill="#141414" >1.0</text>
<line x1="61.400000000000006" y1="561.2" x2="66.4" y2="561.2" stroke="#222" stroke-width="1" />
<text x="59.8" y="566.02" font-size="13.4" text-anchor="end" fill="#141414" >0.5</text>
<line x1="61.400000000000006" y1="601.9" x2="66.4" y2="601.9" stroke="#222" stroke-width="1" />
<text x="59.8" y="606.72" font-size="13.4" text-anchor="end" fill="#141414" >0.0</text>
<line x1="65.9" y1="601.9" x2="208.7" y2="601.9" stroke="#222" stroke-width="1" />
<text x="36.4" y="542.5" font-size="13.2" text-anchor="middle" transform="rotate(-90 36.4 542.5)" fill="#141414" >2^-ΔΔCt</text>
<rect x="77.50" y="512.30" width="22.10" height="89.60" fill="#0a0a0a" stroke="#111" stroke-width="1" />
<rect x="102.80" y="521.00" width="21.90" height="80.90" fill="#bbb9bd" stroke="#111" stroke-width="1" />
<rect x="150.60" y="508.10" width="21.60" height="93.80" fill="#0a0a0a" stroke="#111" stroke-width="1" />
<rect x="175.90" y="521.80" width="21.60" height="80.10" fill="#bbb9bd" stroke="#111" stroke-width="1" />
<line x1="100.9" y1="601.9" x2="100.9" y2="607.4" stroke="#222" stroke-width="1" />
<line x1="173.3" y1="601.9" x2="173.3" y2="607.4" stroke="#222" stroke-width="1" />
<line x1="88.3" y1="508" x2="88.3" y2="515.3" stroke="#f0737f" stroke-width="1" />
<line x1="82.3" y1="508" x2="94.3" y2="508" stroke="#f0737f" stroke-width="1" />
<line x1="82.3" y1="515.3" x2="94.3" y2="515.3" stroke="#f0737f" stroke-width="1" />
<circle cx="88.30" cy="507.30" r="1.6" fill="#f0737f"/>
<circle cx="84.90" cy="514.80" r="1.6" fill="#f0737f"/>
<circle cx="92.40" cy="512.50" r="1.6" fill="#f0737f"/>
<line x1="113.6" y1="518.7" x2="113.6" y2="523.6" stroke="#111" stroke-width="1" />
<line x1="108.0" y1="518.7" x2="119.19999999999999" y2="518.7" stroke="#111" stroke-width="1" />
<line x1="108.0" y1="523.6" x2="119.19999999999999" y2="523.6" stroke="#111" stroke-width="1" />
<circle cx="110.20" cy="518.00" r="1.7" fill="#fff" stroke="#111" stroke-width="0.9"/>
<circle cx="116.60" cy="518.70" r="1.7" fill="#fff" stroke="#111" stroke-width="0.9"/>
<circle cx="113.60" cy="524.30" r="1.7" fill="#fff" stroke="#111" stroke-width="0.9"/>
<line x1="160.7" y1="505.8" x2="160.7" y2="510.7" stroke="#f0737f" stroke-width="1" />
<line x1="154.7" y1="505.8" x2="166.7" y2="505.8" stroke="#f0737f" stroke-width="1" />
<line x1="154.7" y1="510.7" x2="166.7" y2="510.7" stroke="#f0737f" stroke-width="1" />
<circle cx="157.80" cy="505.10" r="1.6" fill="#f0737f"/>
<circle cx="157.80" cy="510.30" r="1.6" fill="#f0737f"/>
<circle cx="164.10" cy="508.90" r="1.6" fill="#f0737f"/>
<line x1="186" y1="519.3" x2="186" y2="524.3" stroke="#111" stroke-width="1" />
<line x1="180.4" y1="519.3" x2="191.6" y2="519.3" stroke="#111" stroke-width="1" />
<line x1="180.4" y1="524.3" x2="191.6" y2="524.3" stroke="#111" stroke-width="1" />
<circle cx="182.90" cy="518.70" r="1.7" fill="#fff" stroke="#111" stroke-width="0.9"/>
<circle cx="190.10" cy="518.70" r="1.7" fill="#fff" stroke="#111" stroke-width="0.9"/>
<circle cx="186.00" cy="525.00" r="1.7" fill="#fff" stroke="#111" stroke-width="0.9"/>
<text x="102.4" y="487.6" font-size="12.3" text-anchor="middle" fill="#141414" >P=0.03</text>
<path d="M88.3,500.5 V490.8 H113.4 V510.7" fill="none" stroke="#111" stroke-width="1" />
<text x="175.2" y="487.6" font-size="12.3" text-anchor="middle" fill="#141414" >P=0.004</text>
<path d="M160.7,498.3 V490.8 H185.8 V511.9" fill="none" stroke="#111" stroke-width="1" />
<text x="100.6" y="618.6" font-size="12.7" text-anchor="middle" fill="#141414" >3-4m</text>
<text x="173" y="618.6" font-size="12.7" text-anchor="middle" fill="#141414" >6-7m</text>
<text x="260.6" y="436.1" font-size="20" text-anchor="start" font-weight="bold" fill="#141414" >d</text>
<text x="347.5" y="445.4" font-size="13.6" text-anchor="middle" font-weight="bold" fill="#141414" >NPCs</text>
<line x1="297.9" y1="467.9" x2="297.9" y2="587.6" stroke="#222" stroke-width="1" />
<line x1="292.9" y1="468.4" x2="297.9" y2="468.4" stroke="#222" stroke-width="1" />
<text x="292" y="473.15" font-size="13.2" text-anchor="end" fill="#141414" >10</text>
<line x1="292.9" y1="492.1" x2="297.9" y2="492.1" stroke="#222" stroke-width="1" />
<text x="292" y="496.85" font-size="13.2" text-anchor="end" fill="#141414" >8</text>
<line x1="292.9" y1="515.9" x2="297.9" y2="515.9" stroke="#222" stroke-width="1" />
<text x="292" y="520.65" font-size="13.2" text-anchor="end" fill="#141414" >6</text>
<line x1="292.9" y1="539.6" x2="297.9" y2="539.6" stroke="#222" stroke-width="1" />
<text x="292" y="544.35" font-size="13.2" text-anchor="end" fill="#141414" >4</text>
<line x1="292.9" y1="563.4" x2="297.9" y2="563.4" stroke="#222" stroke-width="1" />
<text x="292" y="568.15" font-size="13.2" text-anchor="end" fill="#141414" >2</text>
<line x1="292.9" y1="587.1" x2="297.9" y2="587.1" stroke="#222" stroke-width="1" />
<text x="292" y="591.85" font-size="13.2" text-anchor="end" fill="#141414" >0</text>
<line x1="297.4" y1="587.1" x2="400.2" y2="587.1" stroke="#222" stroke-width="1" />
<text x="276.4" y="527" font-size="13.2" text-anchor="middle" transform="rotate(-90 276.4 527)" fill="#141414" >2^-ΔΔCt</text>
<rect x="312.80" y="573.40" width="29.50" height="13.70" fill="#6c6b6b" stroke="#111" stroke-width="1" />
<rect x="356.20" y="528.50" width="29.60" height="58.60" fill="#d59bc6" stroke="#111" stroke-width="1" />
<line x1="349.3" y1="587.1" x2="349.3" y2="592.6" stroke="#222" stroke-width="1" />
<line x1="327.4" y1="566.5" x2="327.4" y2="580.1" stroke="#111" stroke-width="1" />
<line x1="320.0" y1="566.5" x2="334.79999999999995" y2="566.5" stroke="#111" stroke-width="1" />
<line x1="320.0" y1="580.1" x2="334.79999999999995" y2="580.1" stroke="#111" stroke-width="1" />
<circle cx="327.40" cy="566.50" r="2.0" fill="#fff" stroke="#111" stroke-width="1.3"/>
<circle cx="327.40" cy="573.90" r="2.4" fill="#111"/>
<circle cx="327.40" cy="579.90" r="2.4" fill="#111"/>
<line x1="371.1" y1="493.5" x2="371.1" y2="562.7" stroke="#111" stroke-width="1" />
<line x1="363.70000000000005" y1="493.5" x2="378.5" y2="493.5" stroke="#111" stroke-width="1" />
<line x1="363.70000000000005" y1="562.7" x2="378.5" y2="562.7" stroke="#111" stroke-width="1" />
<circle cx="371.10" cy="489.80" r="2.5" fill="#111"/>
<circle cx="371.10" cy="539.40" r="2.5" fill="#111"/>
<circle cx="371.10" cy="556.30" r="2.5" fill="#111"/>
<text x="348.4" y="471.7" font-size="12.3" text-anchor="middle" fill="#141414" >P=0.04</text>
<path d="M327.4,559.2 V475.9 H371.1 V481.6" fill="none" stroke="#111" stroke-width="1" />
<text x="326.2" y="604.4" font-size="13.2" text-anchor="middle" fill="#141414" >CTL</text>
<text x="373.4" y="604.4" font-size="13.2" text-anchor="middle" fill="#141414" >FXTAS</text>
<text x="336.8" y="654.6" font-size="20" text-anchor="start" font-weight="bold" fill="#141414" >g</text>
<line x1="387.7" y1="678.6" x2="387.7" y2="800.1" stroke="#222" stroke-width="1" />
<line x1="383.7" y1="679.1" x2="387.7" y2="679.1" stroke="#222" stroke-width="1" />
<text x="382.9" y="682.77" font-size="10.2" text-anchor="end" fill="#141414" >1.5</text>
<line x1="383.7" y1="719.3" x2="387.7" y2="719.3" stroke="#222" stroke-width="1" />
<text x="382.9" y="722.97" font-size="10.2" text-anchor="end" fill="#141414" >1.0</text>
<line x1="383.7" y1="759.4" x2="387.7" y2="759.4" stroke="#222" stroke-width="1" />
<text x="382.9" y="763.07" font-size="10.2" text-anchor="end" fill="#141414" >0.5</text>
<line x1="383.7" y1="799.6" x2="387.7" y2="799.6" stroke="#222" stroke-width="1" />
<text x="382.9" y="803.27" font-size="10.2" text-anchor="end" fill="#141414" >0.0</text>
<line x1="387.2" y1="799.6" x2="507.3" y2="799.6" stroke="#222" stroke-width="1" />
<text x="363.4" y="737.5" font-size="10.7" text-anchor="middle" transform="rotate(-90 363.4 737.5)" fill="#141414" >Relative Cell Viability</text>
<rect x="401.90" y="719.30" width="25.50" height="80.30" fill="#72706f" stroke="#111" stroke-width="1" />
<rect x="436.00" y="758.50" width="25.10" height="41.10" fill="#d57484" stroke="#111" stroke-width="1" />
<rect x="469.80" y="739.90" width="25.70" height="59.70" fill="#8d73cd" stroke="#111" stroke-width="1" />
<line x1="414.2" y1="799.6" x2="414.2" y2="804.1" stroke="#222" stroke-width="1" />
<line x1="448.3" y1="799.6" x2="448.3" y2="804.1" stroke="#222" stroke-width="1" />
<line x1="482.7" y1="799.6" x2="482.7" y2="804.1" stroke="#222" stroke-width="1" />
<text x="434.5" y="680.6" font-size="12.1" text-anchor="middle" fill="#141414" >P&lt;0.0001</text>
<path d="M413.6,694.6 V685.1 H453.4 V694.6" fill="none" stroke="#222" stroke-width="0.9" />
<text x="470.3" y="708.5" font-size="12.3" text-anchor="middle" fill="#141414" >P=0.0006</text>
<path d="M448.3,729.3 V712.3 H482.6 V722" fill="none" stroke="#222" stroke-width="0.9" />
<line x1="414.2" y1="712.3" x2="414.2" y2="719.3" stroke="#111" stroke-width="0.9" />
<line x1="407.4" y1="712.3" x2="421.0" y2="712.3" stroke="#111" stroke-width="0.9" />
<line x1="448.3" y1="749.4" x2="448.3" y2="758.5" stroke="#111" stroke-width="0.9" />
<line x1="441.5" y1="749.4" x2="455.1" y2="749.4" stroke="#111" stroke-width="0.9" />
<line x1="482.6" y1="730.2" x2="482.6" y2="739.9" stroke="#111" stroke-width="0.9" />
<line x1="475.8" y1="730.2" x2="489.40000000000003" y2="730.2" stroke="#111" stroke-width="0.9" />
<circle cx="414.20" cy="709.20" r="0.9" fill="#111"/>
<circle cx="410.00" cy="717.10" r="0.9" fill="#111"/>
<circle cx="418.40" cy="717.10" r="0.9" fill="#111"/>
<circle cx="414.20" cy="719.30" r="0.9" fill="#111"/>
<circle cx="414.20" cy="722.00" r="0.9" fill="#111"/>
<circle cx="414.20" cy="725.70" r="0.9" fill="#111"/>
<circle cx="414.20" cy="728.80" r="0.9" fill="#111"/>
<circle cx="414.20" cy="732.00" r="0.9" fill="#111"/>
<circle cx="444.30" cy="745.40" r="0.9" fill="#111"/>
<circle cx="448.30" cy="747.60" r="0.9" fill="#111"/>
<circle cx="444.30" cy="759.40" r="0.9" fill="#111"/>
<circle cx="452.50" cy="759.40" r="0.9" fill="#111"/>
<circle cx="448.30" cy="761.20" r="0.9" fill="#111"/>
<circle cx="448.30" cy="764.00" r="0.9" fill="#111"/>
<circle cx="448.30" cy="766.70" r="0.9" fill="#111"/>
<circle cx="448.30" cy="770.40" r="0.9" fill="#111"/>
<circle cx="481.20" cy="728.40" r="0.9" fill="#111"/>
<circle cx="484.80" cy="728.00" r="0.9" fill="#111"/>
<circle cx="480.30" cy="733.00" r="0.9" fill="#111"/>
<circle cx="484.80" cy="733.90" r="0.9" fill="#111"/>
<circle cx="482.60" cy="737.50" r="0.9" fill="#111"/>
<circle cx="482.60" cy="743.00" r="0.9" fill="#111"/>
<circle cx="482.60" cy="746.60" r="0.9" fill="#111"/>
<circle cx="482.60" cy="750.30" r="0.9" fill="#111"/>
<circle cx="482.60" cy="753.90" r="0.9" fill="#111"/>
<text x="423.8" y="809.8" font-size="10.8" text-anchor="end" transform="rotate(-40 423.8 809.8)" fill="#141414" >shRNA CTL</text>
<text x="457.5" y="810.8" font-size="10.8" text-anchor="end" transform="rotate(-40 457.5 810.8)" fill="#141414" >CGG<tspan font-size="7.8" dy="2">99</tspan><tspan dy="-2">/shRNA_CTL</tspan></text>
<text x="495.8" y="811.2" font-size="10.8" text-anchor="end" transform="rotate(-40 495.8 811.2)" fill="#141414" >CGG<tspan font-size="7.8" dy="2">99</tspan><tspan dy="-2">/shRNA_PRKCG</tspan></text>
<line x1="552" y1="677.3" x2="552" y2="801.3" stroke="#222" stroke-width="1" />
<line x1="548" y1="677.8" x2="552" y2="677.8" stroke="#222" stroke-width="1" />
<text x="547.4" y="681.47" font-size="10.2" text-anchor="end" fill="#141414" >1.5</text>
<line x1="548" y1="718.8" x2="552" y2="718.8" stroke="#222" stroke-width="1" />
<text x="547.4" y="722.47" font-size="10.2" text-anchor="end" fill="#141414" >1.0</text>
<line x1="548" y1="759.8" x2="552" y2="759.8" stroke="#222" stroke-width="1" />
<text x="547.4" y="763.47" font-size="10.2" text-anchor="end" fill="#141414" >0.5</text>
<line x1="548" y1="800.8" x2="552" y2="800.8" stroke="#222" stroke-width="1" />
<text x="547.4" y="804.47" font-size="10.2" text-anchor="end" fill="#141414" >0.0</text>
<line x1="551.5" y1="800.8" x2="678.4" y2="800.8" stroke="#222" stroke-width="1" />
<text x="524.7" y="738" font-size="10.7" text-anchor="middle" transform="rotate(-90 524.7 738)" fill="#141414" >Relative Cell Viability</text>
<rect x="565.70" y="719.50" width="25.90" height="81.30" fill="#72706f" stroke="#111" stroke-width="1" />
<rect x="601.20" y="749.10" width="26.10" height="51.70" fill="#80c0d0" stroke="#111" stroke-width="1" />
<rect x="636.90" y="758.60" width="26.50" height="42.20" fill="#dba0ea" stroke="#111" stroke-width="1" />
<line x1="578.7" y1="800.8" x2="578.7" y2="805.3" stroke="#222" stroke-width="1" />
<line x1="614.4" y1="800.8" x2="614.4" y2="805.3" stroke="#222" stroke-width="1" />
<line x1="650" y1="800.8" x2="650" y2="805.3" stroke="#222" stroke-width="1" />
<text x="592" y="672.8" font-size="12.3" text-anchor="middle" fill="#141414" >P=0.001</text>
<path d="M578.8,684 V676.8 L607.5,676 V684" fill="none" stroke="#222" stroke-width="0.9" />
<text x="634.8" y="712.5" font-size="12.3" text-anchor="middle" fill="#141414" >P=0.007</text>
<path d="M616,727.3 V716.6 H654.4 V727.3" fill="none" stroke="#222" stroke-width="0.9" />
<line x1="578.8" y1="700.5" x2="578.8" y2="719.5" stroke="#111" stroke-width="0.9" />
<line x1="571.8" y1="700.5" x2="585.8" y2="700.5" stroke="#111" stroke-width="0.9" />
<line x1="614.5" y1="742.4" x2="614.5" y2="749.1" stroke="#111" stroke-width="0.9" />
<line x1="607.9" y1="742.4" x2="621.1" y2="742.4" stroke="#111" stroke-width="0.9" />
<line x1="650" y1="751.4" x2="650" y2="758.6" stroke="#111" stroke-width="0.9" />
<line x1="643.4" y1="751.4" x2="656.6" y2="751.4" stroke="#111" stroke-width="0.9" />
<circle cx="578.80" cy="688.20" r="0.9" fill="#111"/>
<circle cx="578.80" cy="698.20" r="0.9" fill="#111"/>
<circle cx="578.80" cy="720.00" r="0.9" fill="#111"/>
<circle cx="574.30" cy="729.10" r="0.9" fill="#111"/>
<circle cx="578.80" cy="730.50" r="0.9" fill="#111"/>
<circle cx="574.30" cy="735.60" r="0.9" fill="#111"/>
<circle cx="578.80" cy="734.30" r="0.9" fill="#111"/>
<circle cx="583.20" cy="735.60" r="0.9" fill="#111"/>
<circle cx="576.60" cy="732.40" r="0.9" fill="#111"/>
<circle cx="612.60" cy="741.50" r="0.9" fill="#111"/>
<circle cx="616.80" cy="742.80" r="0.9" fill="#111"/>
<circle cx="612.60" cy="745.70" r="0.9" fill="#111"/>
<circle cx="616.40" cy="745.70" r="0.9" fill="#111"/>
<circle cx="614.50" cy="747.90" r="0.9" fill="#111"/>
<circle cx="614.50" cy="753.30" r="0.9" fill="#111"/>
<circle cx="614.50" cy="757.00" r="0.9" fill="#111"/>
<circle cx="614.50" cy="761.20" r="0.9" fill="#111"/>
<circle cx="646.20" cy="750.40" r="0.9" fill="#111"/>
<circle cx="650.00" cy="750.80" r="0.9" fill="#111"/>
<circle cx="654.00" cy="749.10" r="0.9" fill="#111"/>
<circle cx="650.00" cy="753.30" r="0.9" fill="#111"/>
<circle cx="645.80" cy="758.90" r="0.9" fill="#111"/>
<circle cx="654.00" cy="758.40" r="0.9" fill="#111"/>
<circle cx="650.00" cy="760.80" r="0.9" fill="#111"/>
<circle cx="650.00" cy="763.70" r="0.9" fill="#111"/>
<circle cx="650.00" cy="766.00" r="0.9" fill="#111"/>
<circle cx="650.00" cy="768.40" r="0.9" fill="#111"/>
<text x="581.5" y="807.5" font-size="11.6" text-anchor="end" transform="rotate(-40 581.5 807.5)" fill="#141414" >pcDNA</text>
<text x="623.6" y="807.2" font-size="11.6" text-anchor="end" transform="rotate(-40 623.6 807.2)" fill="#141414" >CGG<tspan font-size="8.4" dy="1.4">99</tspan><tspan dy="-1.4"></tspan></text>
<text x="659" y="811" font-size="11.6" text-anchor="end" transform="rotate(-40 659 811)" fill="#141414" >CGG<tspan font-size="8.4" dy="1.4">99</tspan><tspan dy="-1.4">/PRKCG-OE</tspan></text>
<text x="428.3" y="436.1" font-size="20" text-anchor="start" font-weight="bold" fill="#141414" >e</text>
<circle cx="478.9" cy="461.5" r="20.6" fill="#fff" stroke="#222" stroke-width="1.2"/>
<path d="M466.7,444.9 A20.6,20.6 0 0 0 461.5,472.5" fill="none" stroke="#cc38c2" stroke-width="2.2" stroke-linecap="round"/>
<text font-size="10.2" font-style="italic" fill="#141414"><textPath href="#hp">hPRKCG</textPath></text>
<text x="477" y="461.8" font-size="9" text-anchor="middle" fill="#141414" >pUAST</text>
<text x="479" y="472.5" font-size="9" text-anchor="middle" fill="#141414" >vector</text>
<text x="527.3" y="448.5" font-size="9.4" text-anchor="middle" fill="#141414" >Injection</text>
<line x1="505" y1="454" x2="547.4" y2="454.0" stroke="#1a1a1a" stroke-width="1.25" />
<polygon points="552.20,454.00 546.90,456.90 546.90,451.10" fill="#1a1a1a"/>
<path d="M566.6,451.6 C563.2,449.4 560.2,447.2 558,445.3 M566.6,455 C563.2,457 560.2,459.4 558,461.2" fill="none" stroke="#cdb873" stroke-width="1.15" stroke-linecap="round"/>
<path d="M566.2,450.6 C566,449.2 571,448.8 578,448.9 C584,449.1 588.6,450.8 590.3,453.2 C588.6,455.8 584,457.4 578,457.5 C571,457.6 566,457.1 566.2,455.8 Z" fill="#d7c98c" stroke="#bba65c" stroke-width="0.7" />
<path d="M569.5,451.3 C574,450.2 582,450.3 586,451.8" fill="none" stroke="#e9dfae" stroke-width="1.1" stroke-linecap="round"/>
<text x="565.6" y="465.8" font-size="9.1" text-anchor="start" fill="#141414" >Fly embryo</text>
<path d="M598.5,454.1 H642.1 V472.5" fill="none" stroke="#1a1a1a" stroke-width="1.25" />
<polygon points="642.1,477 639.1,471.6 645.1,471.6" fill="#1a1a1a"/>
<use href="#flyW" transform="translate(563,476.8) scale(0.922)"/>
<use href="#flyW" transform="translate(626.7,476.2) scale(0.945)"/>
<text x="564.4" y="503.6" font-size="9.1" text-anchor="start" fill="#141414" >W1118</text>
<text x="627.4" y="501.5" font-size="9.1" text-anchor="start" fill="#141414" >Transformed</text>
<text x="627.4" y="511.7" font-size="9.1" text-anchor="start" fill="#141414" >adults</text>
<path d="M604.9,481.7 L615.9,492.7 M615.9,481.7 L604.9,492.7" fill="none" stroke="#111" stroke-width="2.7" />
<line x1="610.2" y1="500.1" x2="610.2" y2="514.7" stroke="#1a1a1a" stroke-width="1.25" />
<polygon points="610.20,519.50 607.30,514.20 613.10,514.20" fill="#1a1a1a"/>
<line x1="439.2" y1="520.5" x2="510.7" y2="520.5" stroke="#333" stroke-width="1" />
<rect x="445.30" y="514.70" width="23.50" height="10.90" fill="#cff6ee" />
<text x="457.05" y="524.15" font-size="9.25" text-anchor="middle" fill="#141414" >GMR</text>
<rect x="473.50" y="513.90" width="32.50" height="11.30" fill="#e79762" />
<text x="489.75" y="523.55" font-size="9.25" text-anchor="middle" fill="#141414" >GAL4</text>
<path d="M472.5,520.5 V508.6 H480.2" fill="none" stroke="#1a1a1a" stroke-width="1.3" />
<polygon points="484.2,508.6 479.4,505.90000000000003 479.4,511.3" fill="#1a1a1a"/>
<use href="#flyR" transform="translate(514.2,508.6) scale(1.000)"/>
<line x1="439.2" y1="549.2" x2="551.6" y2="549.2" stroke="#333" stroke-width="1" />
<path d="M447.4,544.2 C445.7,541.3 446.7,536.7 449.7,536.2 C450.5,532.9 455.2,532.5 456.9,533.9 C459.4,532.0 464.2,533.3 464.4,536.4 C467.4,537.3 468.0,541.9 466.3,544.2 Z" fill="#e9945b" stroke="none" stroke-width="0" />
<text x="456.85" y="542.2" font-size="9" text-anchor="middle" fill="#141414" >GAL4</text>
<rect x="444.30" y="543.50" width="23.50" height="11.80" fill="#f2b6bc" />
<text x="456.05" y="553.4" font-size="9.25" text-anchor="middle" fill="#141414" >UAS</text>
<path d="M471.9,549.2 V537.8 H479.6" fill="none" stroke="#1a1a1a" stroke-width="1.3" />
<polygon points="483.6,537.8 478.8,535.0999999999999 478.8,540.5" fill="#1a1a1a"/>
<rect x="473.50" y="542.90" width="37.80" height="12.40" fill="#c9bdf0" />
<text x="492.4" y="553.1" font-size="9.25" text-anchor="middle" fill="#141414" >(CGG)<tspan font-size="5.5" dy="1.2">90</tspan></text>
<path d="M514.8,549.2 V537.8 H522.2" fill="none" stroke="#1a1a1a" stroke-width="1.3" />
<polygon points="526.2,537.8 521.4000000000001,535.0999999999999 521.4000000000001,540.5" fill="#1a1a1a"/>
<rect x="516.90" y="542.90" width="29.20" height="12.00" fill="#5cbc2b" />
<text x="531.5" y="552.9" font-size="9.25" text-anchor="middle" fill="#141414" >EGFP</text>
<text x="439.2" y="571.5" font-size="9.1" text-anchor="start" fill="#141414" >A FXTAS <tspan font-style="italic">Drosophila</tspan> model</text>
<path d="M560.5,529.6 L571.5,540.6 M571.5,529.6 L560.5,540.6" fill="none" stroke="#111" stroke-width="2.7" />
<line x1="564.5" y1="557" x2="564.5" y2="582.5" stroke="#1a1a1a" stroke-width="1.25" />
<polygon points="564.50,587.30 561.60,582.00 567.40,582.00" fill="#1a1a1a"/>
<use href="#flyR" transform="translate(596.4,518.6) scale(0.971)"/>
<line x1="578.2" y1="549.2" x2="661.9" y2="549.2" stroke="#333" stroke-width="1" />
<rect x="585.90" y="543.70" width="24.10" height="11.70" fill="#f2b6bc" />
<text x="597.95" y="553.55" font-size="9.25" text-anchor="middle" fill="#141414" >UAS</text>
<rect x="614.40" y="543.30" width="42.10" height="11.80" fill="#cf3ec3" />
<text x="635.45" y="553.2" font-size="9.25" text-anchor="middle" fill="#141414" >hPRKCG</text>
<text x="581" y="567.8" font-size="9" text-anchor="start" fill="#141414" >Transgenic fly contain</text>
<text x="581" y="578.4" font-size="9" text-anchor="start" fill="#141414" >human PRKCG gene</text>
<line x1="489.7" y1="601" x2="561.3" y2="601" stroke="#333" stroke-width="1" />
<rect x="496.20" y="595.40" width="24.50" height="11.20" fill="#cff6ee" />
<text x="508.45" y="605.0" font-size="9.25" text-anchor="middle" fill="#141414" >GMR</text>
<rect x="524.20" y="594.40" width="32.40" height="11.60" fill="#e79762" />
<text x="540.4" y="604.2" font-size="9.25" text-anchor="middle" fill="#141414" >GAL4</text>
<path d="M523.3,601 V588.6 H530.4" fill="none" stroke="#1a1a1a" stroke-width="1.3" />
<polygon points="534.4,588.6 529.6,585.9 529.6,591.3000000000001" fill="#1a1a1a"/>
<use href="#flyR" transform="translate(565.8,584.2) scale(1.000)"/>
<line x1="462" y1="626.4" x2="574" y2="626.4" stroke="#333" stroke-width="1" />
<path d="M470.1,621.4 C468.4,618.5 469.4,613.9 472.4,613.3 C473.2,610.0 477.9,609.6 479.6,611.0 C482.1,609.1 487.0,610.4 487.2,613.5 C490.2,614.4 490.8,619.1 489.1,621.4 Z" fill="#e9945b" stroke="none" stroke-width="0" />
<text x="479.6" y="619.4" font-size="9" text-anchor="middle" fill="#141414" >GAL4</text>
<rect x="466.90" y="620.60" width="24.00" height="12.00" fill="#f2b6bc" />
<text x="478.9" y="630.6" font-size="9.25" text-anchor="middle" fill="#141414" >UAS</text>
<path d="M494.9,626.4 V615 H502.2" fill="none" stroke="#1a1a1a" stroke-width="1.3" />
<polygon points="506.2,615 501.4,612.3 501.4,617.7" fill="#1a1a1a"/>
<rect x="496.20" y="620.00" width="37.60" height="12.30" fill="#c9bdf0" />
<text x="515.0" y="630.15" font-size="9.25" text-anchor="middle" fill="#141414" >(CGG)<tspan font-size="5.5" dy="1.2">90</tspan></text>
<path d="M538.7,626.4 V615 H545.8" fill="none" stroke="#1a1a1a" stroke-width="1.3" />
<polygon points="549.8,615 545.0,612.3 545.0,617.7" fill="#1a1a1a"/>
<rect x="539.60" y="620.00" width="28.90" height="12.30" fill="#5cbc2b" />
<text x="554.05" y="630.15" font-size="9.25" text-anchor="middle" fill="#141414" >EGFP</text>
<line x1="585" y1="626.4" x2="669.9" y2="626.4" stroke="#333" stroke-width="1" />
<path d="M593.8,621.6 C591.9,618.5 593.1,613.4 596.3,612.8 C597.3,609.3 602.4,608.7 604.3,610.3 C607.1,608.2 612.5,609.6 612.7,613.0 C616.0,614.0 616.7,619.1 614.8,621.6 Z" fill="#e9945b" stroke="none" stroke-width="0" />
<text x="604.3" y="619.6" font-size="9" text-anchor="middle" fill="#141414" >GAL4</text>
<rect x="592.70" y="620.80" width="22.80" height="11.80" fill="#f2b6bc" />
<text x="604.1" y="630.7" font-size="9.25" text-anchor="middle" fill="#141414" >UAS</text>
<path d="M620.2,626.4 V615 H627.6" fill="none" stroke="#1a1a1a" stroke-width="1.3" />
<polygon points="631.6,615 626.8000000000001,612.3 626.8000000000001,617.7" fill="#1a1a1a"/>
<rect x="621.90" y="620.40" width="41.30" height="12.10" fill="#cf3ec3" />
<text x="642.55" y="630.45" font-size="9.25" text-anchor="middle" fill="#141414" >hPRKCG</text>
<text x="5.6" y="654.4" font-size="20" text-anchor="start" font-weight="bold" fill="#141414" >f</text>
<text x="112.3" y="667.8" font-size="13.2" text-anchor="middle" fill="#141414" >Control</text>
<text x="180.8" y="668.4" font-size="13.2" text-anchor="middle" fill="#141414" >aPKC</text>
<text x="256.8" y="668.4" font-size="13.2" text-anchor="middle" fill="#141414" >hPRKCG</text>
<text x="1.9" y="713.3" font-size="12.1" text-anchor="start" fill="#141414" >gmr-GAL4,</text>
<text x="1.9" y="727.3" font-size="12.1" text-anchor="start" fill="#141414" >UAS-(CGG)<tspan font-size="8.6">90</tspan></text>
<text x="1.9" y="741.3" font-size="12.1" text-anchor="start" fill="#141414" >-EGFP</text>
<text x="18.2" y="799.7" font-size="12.1" text-anchor="start" fill="#141414" >gmr-GAL4</text>
<defs><clipPath id="pc1"><rect x="79" y="672.6" width="67.0" height="80.9"/></clipPath><linearGradient id="pb1" x1="0" y1="0" x2="0.35" y2="1"><stop offset="0" stop-color="#b38452"/><stop offset="0.5" stop-color="#c4945d"/><stop offset="1" stop-color="#cb9f66"/></linearGradient><radialGradient id="pe1" cx="0.5" cy="0.62" r="0.6"><stop offset="0" stop-color="#cf7144"/><stop offset="0.6" stop-color="#c7633d"/><stop offset="1" stop-color="#b75034"/></radialGradient><clipPath id="ec1"><path d="M142.8,711.4 L142.3,716.6 L141.3,721.2 L139.9,725.5 L138.1,729.5 L136.0,733.1 L133.5,736.4 L130.7,739.2 L127.7,741.6 L124.4,743.5 L120.9,744.8 L117.2,745.6 L113.0,745.9 L108.8,745.6 L105.1,744.8 L101.6,743.5 L98.3,741.6 L95.3,739.2 L92.5,736.4 L90.0,733.1 L87.9,729.5 L86.1,725.5 L84.7,721.2 L83.7,716.6 L83.2,711.4 L83.1,706.2 L83.6,701.6 L84.5,697.3 L86.0,693.3 L87.9,689.7 L90.3,686.4 L93.2,683.6 L96.4,681.2 L100.0,679.3 L104.0,678.0 L108.2,677.2 L113.0,676.9 L117.8,677.2 L122.0,678.0 L126.0,679.3 L129.6,681.2 L132.8,683.6 L135.7,686.4 L138.1,689.7 L140.0,693.3 L141.5,697.3 L142.4,701.6 L142.9,706.2 Z"/></clipPath></defs>
<g clip-path="url(#pc1)">
<rect x="79" y="672.6" width="67.0" height="80.9" fill="url(#pb1)"/>
<ellipse cx="84" cy="680" rx="10" ry="10" fill="#af804f" opacity="0.5" filter="url(#bl4)" transform="rotate(0 84 680)"/>
<ellipse cx="141" cy="744" rx="8" ry="10" fill="#d3ac73" opacity="0.6" filter="url(#bl4)" transform="rotate(0 141 744)"/>
<ellipse cx="112" cy="752" rx="30" ry="4" fill="#cda36c" opacity="0.6" filter="url(#bl2)" transform="rotate(0 112 752)"/>
<path d="M145.2,711.4 L144.6,717.0 L143.6,721.9 L142.1,726.5 L140.1,730.8 L137.8,734.7 L135.1,738.1 L132.1,741.2 L128.9,743.7 L125.3,745.7 L121.5,747.1 L117.5,748.0 L113.0,748.3 L108.5,748.0 L104.5,747.1 L100.7,745.7 L97.1,743.7 L93.9,741.2 L90.9,738.1 L88.2,734.7 L85.9,730.8 L83.9,726.5 L82.4,721.9 L81.4,717.0 L80.8,711.4 L80.7,705.8 L81.2,700.9 L82.2,696.3 L83.8,692.0 L85.9,688.1 L88.5,684.7 L91.6,681.6 L95.1,679.1 L99.0,677.1 L103.2,675.7 L107.8,674.8 L113.0,674.5 L118.2,674.8 L122.8,675.7 L127.0,677.1 L130.9,679.1 L134.4,681.6 L137.5,684.7 L140.1,688.1 L142.2,692.0 L143.8,696.3 L144.8,700.9 L145.3,705.8 Z" fill="#d69c66" opacity="0.55" filter="url(#bl1)"/>
<path d="M142.8,711.4 L142.3,716.6 L141.3,721.2 L139.9,725.5 L138.1,729.5 L136.0,733.1 L133.5,736.4 L130.7,739.2 L127.7,741.6 L124.4,743.5 L120.9,744.8 L117.2,745.6 L113.0,745.9 L108.8,745.6 L105.1,744.8 L101.6,743.5 L98.3,741.6 L95.3,739.2 L92.5,736.4 L90.0,733.1 L87.9,729.5 L86.1,725.5 L84.7,721.2 L83.7,716.6 L83.2,711.4 L83.1,706.2 L83.6,701.6 L84.5,697.3 L86.0,693.3 L87.9,689.7 L90.3,686.4 L93.2,683.6 L96.4,681.2 L100.0,679.3 L104.0,678.0 L108.2,677.2 L113.0,676.9 L117.8,677.2 L122.0,678.0 L126.0,679.3 L129.6,681.2 L132.8,683.6 L135.7,686.4 L138.1,689.7 L140.0,693.3 L141.5,697.3 L142.4,701.6 L142.9,706.2 Z" fill="url(#pe1)" filter="url(#bl08)"/>
<g clip-path="url(#ec1)">
<ellipse cx="112" cy="690" rx="27" ry="13" fill="#b4503a" opacity="0.5" filter="url(#bl2)" transform="rotate(0 112 690)"/>
<mask id="m1"><ellipse cx="112" cy="690" rx="30" ry="18" fill="#fff" filter="url(#bl2)"/></mask>
<rect x="78" y="672" width="70" height="48" fill="#000" filter="url(#grain)" opacity="0.8" mask="url(#m1)"/>
<ellipse cx="118" cy="730" rx="22" ry="14" fill="#d87640" opacity="0.4" filter="url(#bl2)" transform="rotate(0 118 730)"/>
<rect x="79" y="672.6" width="67.0" height="80.9" fill="url(#omm2)" opacity="0.5"/>
<ellipse cx="109" cy="708" rx="14" ry="12" fill="#f3d6c4" opacity="0.6" filter="url(#bl2)" transform="rotate(0 109 708)"/>
<ellipse cx="108.5" cy="706.5" rx="7" ry="7" fill="#f9eadf" opacity="0.7" filter="url(#bl2)" transform="rotate(0 108.5 706.5)"/>
<ellipse cx="107.3" cy="705.5" rx="3" ry="3.4" fill="#ffffff" opacity="0.55" filter="url(#bl1)" transform="rotate(0 107.3 705.5)"/>
</g>
<path d="M128,675 q4,0 6,4" fill="none" stroke="#35281e" stroke-width="0.7" opacity="0.7" stroke-linecap="round"/>
<path d="M134,678 q4,1 5,5" fill="none" stroke="#35281e" stroke-width="0.7" opacity="0.7" stroke-linecap="round"/>
<path d="M139,684 q3,2 3,6" fill="none" stroke="#35281e" stroke-width="0.7" opacity="0.7" stroke-linecap="round"/>
<path d="M86,688 q-3,3 -2,7" fill="none" stroke="#35281e" stroke-width="0.7" opacity="0.7" stroke-linecap="round"/>
<path d="M84,698 q-2,3 -1,6" fill="none" stroke="#35281e" stroke-width="0.7" opacity="0.7" stroke-linecap="round"/>
<path d="M83,742 q1,3 4,4" fill="none" stroke="#35281e" stroke-width="0.7" opacity="0.7" stroke-linecap="round"/>
<path d="M93,679 q-3,1 -5,4" fill="none" stroke="#35281e" stroke-width="0.7" opacity="0.7" stroke-linecap="round"/>
<path d="M136,676 q2,3 1,6" fill="none" stroke="#35281e" stroke-width="0.7" opacity="0.7" stroke-linecap="round"/>
</g>
<defs><clipPath id="pc2"><rect x="151.2" y="672.8" width="66.0" height="80.9"/></clipPath><linearGradient id="pb2" x1="0" y1="0" x2="0.35" y2="1"><stop offset="0" stop-color="#cb9659"/><stop offset="0.5" stop-color="#d2a364"/><stop offset="1" stop-color="#dab27a"/></linearGradient><radialGradient id="pe2" cx="0.5" cy="0.75" r="0.6"><stop offset="0" stop-color="#e26c42"/><stop offset="0.6" stop-color="#dc4e3b"/><stop offset="1" stop-color="#cc4033"/></radialGradient><clipPath id="ec2"><path d="M212.1,712.1 L212.2,716.3 L211.8,720.9 L210.8,725.4 L209.5,729.8 L207.6,734.0 L205.4,737.9 L202.8,741.3 L200.0,744.3 L196.8,746.7 L193.5,748.5 L190.2,749.8 L186.9,750.3 L183.7,750.2 L180.2,749.5 L176.6,748.1 L173.2,746.1 L169.9,743.6 L166.9,740.6 L164.2,737.1 L161.8,733.2 L159.8,729.0 L158.3,724.6 L157.2,720.2 L156.7,715.9 L156.6,711.7 L157.0,707.1 L158.0,702.6 L159.3,698.2 L161.2,694.0 L163.4,690.1 L166.0,686.7 L168.8,683.7 L172.0,681.3 L175.3,679.5 L178.6,678.2 L181.9,677.7 L185.1,677.8 L188.6,678.5 L192.2,679.9 L195.6,681.9 L198.9,684.4 L201.9,687.4 L204.6,690.9 L207.0,694.8 L209.0,699.0 L210.5,703.4 L211.6,707.8 Z"/></clipPath></defs>
<g clip-path="url(#pc2)">
<rect x="151.2" y="672.8" width="66.0" height="80.9" fill="url(#pb2)"/>
<ellipse cx="205" cy="690" rx="12" ry="22" fill="#dcbb83" opacity="0.8" filter="url(#bl4)" transform="rotate(0 205 690)"/>
<ellipse cx="158" cy="735" rx="8" ry="16" fill="#ce9f66" opacity="0.5" filter="url(#bl4)" transform="rotate(0 158 735)"/>
<path d="M214.5,711.9 L214.6,716.5 L214.1,721.3 L213.1,726.1 L211.6,730.8 L209.6,735.3 L207.2,739.4 L204.4,743.1 L201.2,746.3 L197.9,748.8 L194.3,750.8 L190.6,752.1 L187.1,752.7 L183.5,752.6 L179.7,751.8 L175.9,750.4 L172.2,748.3 L168.7,745.6 L165.4,742.3 L162.4,738.6 L159.8,734.5 L157.7,730.0 L156.0,725.4 L154.9,720.6 L154.3,716.1 L154.2,711.5 L154.7,706.7 L155.7,701.9 L157.2,697.2 L159.2,692.7 L161.6,688.6 L164.4,684.9 L167.6,681.7 L170.9,679.2 L174.5,677.2 L178.2,675.9 L181.7,675.3 L185.3,675.4 L189.1,676.2 L192.9,677.6 L196.6,679.7 L200.1,682.4 L203.4,685.7 L206.4,689.4 L209.0,693.5 L211.1,698.0 L212.8,702.6 L213.9,707.4 Z" fill="#d69c66" opacity="0.55" filter="url(#bl1)"/>
<path d="M212.1,712.1 L212.2,716.3 L211.8,720.9 L210.8,725.4 L209.5,729.8 L207.6,734.0 L205.4,737.9 L202.8,741.3 L200.0,744.3 L196.8,746.7 L193.5,748.5 L190.2,749.8 L186.9,750.3 L183.7,750.2 L180.2,749.5 L176.6,748.1 L173.2,746.1 L169.9,743.6 L166.9,740.6 L164.2,737.1 L161.8,733.2 L159.8,729.0 L158.3,724.6 L157.2,720.2 L156.7,715.9 L156.6,711.7 L157.0,707.1 L158.0,702.6 L159.3,698.2 L161.2,694.0 L163.4,690.1 L166.0,686.7 L168.8,683.7 L172.0,681.3 L175.3,679.5 L178.6,678.2 L181.9,677.7 L185.1,677.8 L188.6,678.5 L192.2,679.9 L195.6,681.9 L198.9,684.4 L201.9,687.4 L204.6,690.9 L207.0,694.8 L209.0,699.0 L210.5,703.4 L211.6,707.8 Z" fill="url(#pe2)" filter="url(#bl08)"/>
<g clip-path="url(#ec2)">
<ellipse cx="176" cy="700" rx="20" ry="22" fill="#cc3a36" opacity="0.3" filter="url(#bl2)" transform="rotate(0 176 700)"/>
<ellipse cx="188" cy="738" rx="16" ry="9" fill="#dc6c3c" opacity="0.6" filter="url(#bl2)" transform="rotate(0 188 738)"/>
<mask id="m2"><ellipse cx="180" cy="706" rx="24" ry="28" fill="#fff" filter="url(#bl2)"/></mask>
<rect x="151" y="672" width="68" height="82" fill="#000" filter="url(#grain)" opacity="0.35" mask="url(#m2)"/>
<rect x="151.2" y="672.8" width="66.0" height="80.9" fill="url(#omm2)" opacity="0.4"/>
<g transform="translate(190 714) scale(0.88) translate(-190 -714)">
<g filter="url(#bl05)">
<path d="M175.5,713 C178,710 183,711 184,708 C186,704 191,706 194,708 C197,705 202,707 201.5,712 C204,716 203,721 201.5,725 C203,730 199,734 196,731 C193,733 190,731 190,728 C186,729 182,727 182,723 C178,722 174,718 175.5,713 Z" fill="#1a1a1f"/>
<path d="M190,696.5 C191,693.5 196,693 198,695.5 C202,696 203,700.5 200,702.5 C197,705 191,704 190,696.5 Z" fill="#1f1d22"/>
<path d="M181,704 C184,701 189,701 192,703 C196,702 199,704 199,707 C195,710 186,711 181,704 Z" fill="#56484c" opacity="0.85"/>
</g>
<clipPath id="k2"><path d="M175.5,713 C178,710 183,711 184,708 C186,704 191,706 194,708 C197,705 202,707 201.5,712 C204,716 203,721 201.5,725 C203,730 199,734 196,731 C193,733 190,731 190,728 C186,729 182,727 182,723 C178,722 174,718 175.5,713 Z M190,696.5 C191,693.5 196,693 198,695.5 C202,696 203,700.5 200,702.5 C197,705 191,704 190,696.5 Z"/></clipPath>
<g clip-path="url(#k2)"><rect x="174" y="692" width="32" height="42" fill="#000" filter="url(#grainK)" opacity="0.38"/></g>
<ellipse cx="183" cy="705.5" rx="3.2" ry="1.8" fill="#efe9e6" opacity="0.9" filter="url(#bl05)" transform="rotate(0 183 705.5)"/>
<ellipse cx="196.5" cy="706" rx="2.6" ry="1.6" fill="#e2dcdc" opacity="0.8" filter="url(#bl05)" transform="rotate(0 196.5 706)"/>
<ellipse cx="190" cy="702.5" rx="2" ry="1.3" fill="#d9cfd0" opacity="0.7" filter="url(#bl05)" transform="rotate(0 190 702.5)"/>
</g>
<circle cx="186.50" cy="733.50" r="0.8" fill="#2a1a1a"/>
<circle cx="190.00" cy="737.00" r="0.8" fill="#2a1a1a"/>
<circle cx="194.50" cy="735.00" r="0.8" fill="#2a1a1a"/>
<circle cx="198.00" cy="739.50" r="0.8" fill="#2a1a1a"/>
<circle cx="184.50" cy="741.00" r="0.8" fill="#2a1a1a"/>
<circle cx="189.00" cy="744.00" r="0.8" fill="#2a1a1a"/>
</g>
<path d="M157,690 q-2,3 -1,6" fill="none" stroke="#35281e" stroke-width="0.7" opacity="0.7" stroke-linecap="round"/>
<path d="M156,700 q-2,3 -1,6" fill="none" stroke="#35281e" stroke-width="0.7" opacity="0.7" stroke-linecap="round"/>
<path d="M161,682 q-3,2 -3,5" fill="none" stroke="#35281e" stroke-width="0.7" opacity="0.7" stroke-linecap="round"/>
<path d="M210,684 q3,1 3,5" fill="none" stroke="#35281e" stroke-width="0.7" opacity="0.7" stroke-linecap="round"/>
<path d="M165,748 q2,3 5,3" fill="none" stroke="#35281e" stroke-width="0.7" opacity="0.7" stroke-linecap="round"/>
<path d="M164,678 q-3,1 -4,4" fill="none" stroke="#35281e" stroke-width="0.7" opacity="0.7" stroke-linecap="round"/>
</g>
<defs><clipPath id="pc3"><rect x="224" y="674.4" width="68.0" height="80.4"/></clipPath><linearGradient id="pb3" x1="0" y1="0" x2="0.35" y2="1"><stop offset="0" stop-color="#cd9e61"/><stop offset="0.5" stop-color="#d4a96c"/><stop offset="1" stop-color="#dcb67e"/></linearGradient><radialGradient id="pe3" cx="0.62" cy="0.5" r="0.6"><stop offset="0" stop-color="#cd6046"/><stop offset="0.6" stop-color="#c54d3b"/><stop offset="1" stop-color="#b74033"/></radialGradient><clipPath id="ec3"><path d="M283.7,711.6 L284.0,716.5 L283.8,720.9 L283.2,725.0 L282.2,728.9 L280.8,732.5 L279.0,735.7 L276.8,738.6 L274.3,741.1 L271.5,743.2 L268.4,744.8 L265.1,746.0 L261.2,746.6 L257.3,746.8 L253.7,746.4 L250.4,745.4 L247.2,744.0 L244.2,742.1 L241.5,739.7 L239.1,736.9 L237.0,733.6 L235.2,730.1 L233.7,726.1 L232.7,721.9 L231.9,717.0 L231.6,712.1 L231.8,707.7 L232.4,703.6 L233.4,699.7 L234.8,696.1 L236.6,692.9 L238.8,690.0 L241.3,687.5 L244.1,685.4 L247.2,683.8 L250.5,682.6 L254.4,682.0 L258.3,681.8 L261.9,682.2 L265.2,683.2 L268.4,684.6 L271.4,686.5 L274.1,688.9 L276.5,691.7 L278.6,695.0 L280.4,698.5 L281.9,702.5 L282.9,706.7 Z"/></clipPath></defs>
<g clip-path="url(#pc3)">
<rect x="224" y="674.4" width="68.0" height="80.4" fill="url(#pb3)"/>
<ellipse cx="232" cy="745" rx="14" ry="10" fill="#dec18a" opacity="0.7" filter="url(#bl4)" transform="rotate(0 232 745)"/>
<ellipse cx="284" cy="690" rx="8" ry="14" fill="#cca068" opacity="0.5" filter="url(#bl4)" transform="rotate(0 284 690)"/>
<path d="M286.0,711.3 L286.4,716.6 L286.2,721.3 L285.5,725.7 L284.4,729.9 L282.9,733.8 L280.9,737.3 L278.5,740.4 L275.8,743.1 L272.7,745.3 L269.4,747.1 L265.7,748.3 L261.4,749.0 L257.2,749.2 L253.3,748.8 L249.6,747.8 L246.2,746.2 L242.9,744.2 L240.0,741.6 L237.3,738.6 L235.0,735.1 L233.1,731.3 L231.5,727.0 L230.3,722.5 L229.6,717.3 L229.2,712.0 L229.4,707.3 L230.1,702.9 L231.2,698.7 L232.7,694.8 L234.7,691.3 L237.1,688.2 L239.8,685.5 L242.9,683.3 L246.2,681.5 L249.9,680.3 L254.2,679.6 L258.4,679.4 L262.3,679.8 L266.0,680.8 L269.4,682.4 L272.7,684.4 L275.6,687.0 L278.3,690.0 L280.6,693.5 L282.5,697.3 L284.1,701.6 L285.3,706.1 Z" fill="#d69c66" opacity="0.55" filter="url(#bl1)"/>
<path d="M283.7,711.6 L284.0,716.5 L283.8,720.9 L283.2,725.0 L282.2,728.9 L280.8,732.5 L279.0,735.7 L276.8,738.6 L274.3,741.1 L271.5,743.2 L268.4,744.8 L265.1,746.0 L261.2,746.6 L257.3,746.8 L253.7,746.4 L250.4,745.4 L247.2,744.0 L244.2,742.1 L241.5,739.7 L239.1,736.9 L237.0,733.6 L235.2,730.1 L233.7,726.1 L232.7,721.9 L231.9,717.0 L231.6,712.1 L231.8,707.7 L232.4,703.6 L233.4,699.7 L234.8,696.1 L236.6,692.9 L238.8,690.0 L241.3,687.5 L244.1,685.4 L247.2,683.8 L250.5,682.6 L254.4,682.0 L258.3,681.8 L261.9,682.2 L265.2,683.2 L268.4,684.6 L271.4,686.5 L274.1,688.9 L276.5,691.7 L278.6,695.0 L280.4,698.5 L281.9,702.5 L282.9,706.7 Z" fill="url(#pe3)" filter="url(#bl08)"/>
<g clip-path="url(#ec3)">
<ellipse cx="242" cy="712" rx="9" ry="22" fill="#c43a32" opacity="0.45" filter="url(#bl2)" transform="rotate(0 242 712)"/>
<ellipse cx="262" cy="742" rx="16" ry="6" fill="#bd3f2c" opacity="0.55" filter="url(#bl2)" transform="rotate(0 262 742)"/>
<mask id="m3"><ellipse cx="243" cy="712" rx="12" ry="26" fill="#fff" filter="url(#bl2)"/></mask>
<rect x="223" y="674" width="40" height="82" fill="#000" filter="url(#grain)" opacity="0.4" mask="url(#m3)"/>
<rect x="224" y="674.4" width="68.0" height="80.4" fill="url(#omm)" opacity="0.65"/>
<g filter="url(#bl05)">
<path d="M247.5,692 C249,688.5 254,688 256,690.5 C259,692 258.5,696 256.5,698 C259.5,701 258,706.5 254,706.5 C252,710 247.5,709 247,705.5 C244,703 244.5,695.5 247.5,692 Z" fill="#1b1b20"/>
<path d="M243.5,708.5 C246,707 250,708.5 249,712.5 C248,717.5 246,721.5 243.5,720.5 C241.5,717 241.5,711 243.5,708.5 Z" fill="#4a3a3c" opacity="0.8"/>
</g>
<clipPath id="k3"><path d="M247.5,692 C249,688.5 254,688 256,690.5 C259,692 258.5,696 256.5,698 C259.5,701 258,706.5 254,706.5 C252,710 247.5,709 247,705.5 C244,703 244.5,695.5 247.5,692 Z"/></clipPath>
<g clip-path="url(#k3)"><rect x="240" y="686" width="22" height="38" fill="#000" filter="url(#grainK)" opacity="0.38"/></g>
<ellipse cx="242.8" cy="702.2" rx="2.9" ry="4.4" fill="#f6efea" opacity="0.95" filter="url(#bl05)" transform="rotate(0 242.8 702.2)"/>
<ellipse cx="251" cy="707.5" rx="3" ry="1.6" fill="#ddd6d6" opacity="0.85" filter="url(#bl05)" transform="rotate(0 251 707.5)"/>
<ellipse cx="252.5" cy="693.5" rx="1.8" ry="1.2" fill="#cfc8ca" opacity="0.6" filter="url(#bl05)" transform="rotate(0 252.5 693.5)"/>
</g>
<path d="M274,677 q5,3 6,10" fill="none" stroke="#35281e" stroke-width="0.7" opacity="0.7" stroke-linecap="round"/>
<path d="M279,680 q5,3 6,10" fill="none" stroke="#35281e" stroke-width="0.7" opacity="0.7" stroke-linecap="round"/>
<path d="M284,686 q4,3 4,9" fill="none" stroke="#35281e" stroke-width="0.7" opacity="0.7" stroke-linecap="round"/>
<path d="M268,676 q4,1 6,5" fill="none" stroke="#35281e" stroke-width="0.7" opacity="0.7" stroke-linecap="round"/>
<path d="M230,740 q1,4 5,5" fill="none" stroke="#35281e" stroke-width="0.7" opacity="0.7" stroke-linecap="round"/>
<path d="M287,700 q2,3 1,7" fill="none" stroke="#35281e" stroke-width="0.7" opacity="0.7" stroke-linecap="round"/>
</g>
<defs><clipPath id="pc4"><rect x="78.4" y="758.5" width="67.6" height="81.1"/></clipPath><linearGradient id="pb4" x1="0" y1="0" x2="0.35" y2="1"><stop offset="0" stop-color="#bc8d56"/><stop offset="0.5" stop-color="#cea166"/><stop offset="1" stop-color="#dcba7f"/></linearGradient><radialGradient id="pe4" cx="0.48" cy="0.45" r="0.6"><stop offset="0" stop-color="#c9673e"/><stop offset="0.6" stop-color="#c25b35"/><stop offset="1" stop-color="#b54b2e"/></radialGradient><clipPath id="ec4"><path d="M143.2,792.6 L143.4,798.3 L143.0,803.1 L142.2,807.6 L140.9,811.7 L139.2,815.5 L137.1,818.9 L134.5,822.0 L131.7,824.6 L128.4,826.7 L124.8,828.4 L120.9,829.6 L116.0,830.4 L111.2,830.7 L107.0,830.3 L103.2,829.4 L99.5,827.9 L96.2,826.0 L93.1,823.5 L90.3,820.6 L87.8,817.3 L85.7,813.5 L84.0,809.3 L82.6,804.7 L81.6,799.0 L81.0,793.4 L81.1,788.6 L81.6,784.1 L82.7,780.0 L84.3,776.2 L86.4,772.8 L89.0,769.8 L92.0,767.2 L95.4,765.0 L99.2,763.3 L103.5,762.0 L108.8,761.2 L114.0,760.9 L118.5,761.2 L122.6,762.1 L126.4,763.5 L129.9,765.5 L133.0,767.9 L135.8,770.8 L138.2,774.2 L140.1,778.0 L141.6,782.2 L142.6,786.9 Z"/></clipPath></defs>
<g clip-path="url(#pc4)">
<rect x="78.4" y="758.5" width="67.6" height="81.1" fill="url(#pb4)"/>
<ellipse cx="84" cy="766" rx="9" ry="9" fill="#c2945f" opacity="0.6" filter="url(#bl4)" transform="rotate(0 84 766)"/>
<ellipse cx="140" cy="764" rx="8" ry="7" fill="#c79963" opacity="0.5" filter="url(#bl4)" transform="rotate(0 140 764)"/>
<ellipse cx="95" cy="832" rx="22" ry="8" fill="#e0c38c" opacity="0.85" filter="url(#bl4)" transform="rotate(0 95 832)"/>
<ellipse cx="138" cy="826" rx="10" ry="12" fill="#dcbd87" opacity="0.7" filter="url(#bl4)" transform="rotate(0 138 826)"/>
<path d="M145.6,792.3 L145.8,798.4 L145.4,803.6 L144.5,808.4 L143.1,812.8 L141.2,816.8 L139.0,820.5 L136.2,823.7 L133.1,826.5 L129.6,828.9 L125.8,830.7 L121.5,832.0 L116.3,832.8 L111.0,833.1 L106.6,832.7 L102.4,831.7 L98.5,830.2 L94.9,828.1 L91.6,825.5 L88.6,822.4 L85.9,818.8 L83.6,814.8 L81.7,810.3 L80.3,805.3 L79.2,799.3 L78.6,793.2 L78.6,788.1 L79.3,783.4 L80.4,779.0 L82.2,774.9 L84.4,771.3 L87.2,768.0 L90.4,765.2 L94.1,762.9 L98.3,761.0 L102.9,759.7 L108.5,758.8 L114.2,758.5 L119.0,758.8 L123.4,759.8 L127.5,761.3 L131.3,763.4 L134.7,766.0 L137.6,769.1 L140.2,772.7 L142.2,776.7 L143.8,781.2 L144.9,786.3 Z" fill="#d69c66" opacity="0.55" filter="url(#bl1)"/>
<path d="M143.2,792.6 L143.4,798.3 L143.0,803.1 L142.2,807.6 L140.9,811.7 L139.2,815.5 L137.1,818.9 L134.5,822.0 L131.7,824.6 L128.4,826.7 L124.8,828.4 L120.9,829.6 L116.0,830.4 L111.2,830.7 L107.0,830.3 L103.2,829.4 L99.5,827.9 L96.2,826.0 L93.1,823.5 L90.3,820.6 L87.8,817.3 L85.7,813.5 L84.0,809.3 L82.6,804.7 L81.6,799.0 L81.0,793.4 L81.1,788.6 L81.6,784.1 L82.7,780.0 L84.3,776.2 L86.4,772.8 L89.0,769.8 L92.0,767.2 L95.4,765.0 L99.2,763.3 L103.5,762.0 L108.8,761.2 L114.0,760.9 L118.5,761.2 L122.6,762.1 L126.4,763.5 L129.9,765.5 L133.0,767.9 L135.8,770.8 L138.2,774.2 L140.1,778.0 L141.6,782.2 L142.6,786.9 Z" fill="url(#pe4)" filter="url(#bl08)"/>
<g clip-path="url(#ec4)">
<ellipse cx="100" cy="778" rx="16" ry="12" fill="#d87a50" opacity="0.3" filter="url(#bl2)" transform="rotate(0 100 778)"/>
<ellipse cx="115" cy="826" rx="22" ry="6" fill="#cb4f30" opacity="0.6" filter="url(#bl2)" transform="rotate(0 115 826)"/>
<rect x="78.4" y="758.5" width="67.6" height="81.1" fill="url(#omm)" opacity="0.7"/>
</g>
<path d="M83,768 q-2,3 -1,6" fill="none" stroke="#35281e" stroke-width="0.7" opacity="0.7" stroke-linecap="round"/>
<path d="M88,763 q-3,2 -3,5" fill="none" stroke="#35281e" stroke-width="0.7" opacity="0.7" stroke-linecap="round"/>
<path d="M141,765 q3,2 3,6" fill="none" stroke="#35281e" stroke-width="0.7" opacity="0.7" stroke-linecap="round"/>
<path d="M85,832 q1,3 4,4" fill="none" stroke="#35281e" stroke-width="0.7" opacity="0.7" stroke-linecap="round"/>
</g>
<defs><clipPath id="pc5"><rect x="151.2" y="758.7" width="65.9" height="81.0"/></clipPath><linearGradient id="pb5" x1="0" y1="0" x2="0.35" y2="1"><stop offset="0" stop-color="#c18d4f"/><stop offset="0.5" stop-color="#cd9c5d"/><stop offset="1" stop-color="#d6ae73"/></linearGradient><radialGradient id="pe5" cx="0.42" cy="0.5" r="0.6"><stop offset="0" stop-color="#d45438"/><stop offset="0.6" stop-color="#cc4733"/><stop offset="1" stop-color="#b93a2b"/></radialGradient><clipPath id="ec5"><path d="M212.7,801.6 L211.7,807.0 L210.4,811.7 L208.6,816.0 L206.5,819.9 L204.0,823.4 L201.2,826.5 L198.0,829.0 L194.7,831.1 L191.1,832.6 L187.3,833.5 L183.3,833.8 L179.0,833.4 L174.7,832.6 L171.0,831.2 L167.6,829.3 L164.5,826.8 L161.8,824.0 L159.5,820.6 L157.7,816.9 L156.2,812.9 L155.3,808.5 L154.8,803.9 L154.8,799.0 L155.3,793.6 L156.3,788.2 L157.6,783.5 L159.4,779.2 L161.5,775.3 L164.0,771.8 L166.8,768.7 L170.0,766.2 L173.3,764.1 L176.9,762.6 L180.7,761.7 L184.7,761.4 L189.0,761.8 L193.3,762.6 L197.0,764.0 L200.4,765.9 L203.5,768.4 L206.2,771.2 L208.5,774.6 L210.3,778.3 L211.8,782.3 L212.7,786.7 L213.2,791.3 L213.2,796.2 Z"/></clipPath></defs>
<g clip-path="url(#pc5)">
<rect x="151.2" y="758.7" width="65.9" height="81.0" fill="url(#pb5)"/>
<ellipse cx="156" cy="800" rx="6" ry="30" fill="#cb9459" opacity="0.6" filter="url(#bl4)" transform="rotate(0 156 800)"/>
<ellipse cx="213" cy="815" rx="6" ry="22" fill="#dec18c" opacity="0.8" filter="url(#bl4)" transform="rotate(0 213 815)"/>
<ellipse cx="212" cy="768" rx="6" ry="8" fill="#d8b67c" opacity="0.6" filter="url(#bl4)" transform="rotate(0 212 768)"/>
<path d="M215.1,802.0 L214.0,807.7 L212.6,812.7 L210.7,817.3 L208.4,821.5 L205.7,825.2 L202.6,828.5 L199.3,831.2 L195.6,833.3 L191.7,834.9 L187.6,835.9 L183.3,836.2 L178.6,835.8 L174.0,834.9 L170.0,833.4 L166.3,831.3 L163.0,828.7 L160.1,825.7 L157.6,822.1 L155.5,818.2 L154.0,813.8 L152.9,809.2 L152.4,804.2 L152.3,799.0 L152.9,793.2 L154.0,787.5 L155.4,782.5 L157.3,777.9 L159.6,773.7 L162.3,770.0 L165.4,766.7 L168.7,764.0 L172.4,761.9 L176.3,760.3 L180.4,759.3 L184.7,759.0 L189.4,759.4 L194.0,760.3 L198.0,761.8 L201.7,763.9 L205.0,766.5 L207.9,769.5 L210.4,773.1 L212.5,777.0 L214.0,781.4 L215.1,786.0 L215.6,791.0 L215.7,796.2 Z" fill="#d69c66" opacity="0.55" filter="url(#bl1)"/>
<path d="M212.7,801.6 L211.7,807.0 L210.4,811.7 L208.6,816.0 L206.5,819.9 L204.0,823.4 L201.2,826.5 L198.0,829.0 L194.7,831.1 L191.1,832.6 L187.3,833.5 L183.3,833.8 L179.0,833.4 L174.7,832.6 L171.0,831.2 L167.6,829.3 L164.5,826.8 L161.8,824.0 L159.5,820.6 L157.7,816.9 L156.2,812.9 L155.3,808.5 L154.8,803.9 L154.8,799.0 L155.3,793.6 L156.3,788.2 L157.6,783.5 L159.4,779.2 L161.5,775.3 L164.0,771.8 L166.8,768.7 L170.0,766.2 L173.3,764.1 L176.9,762.6 L180.7,761.7 L184.7,761.4 L189.0,761.8 L193.3,762.6 L197.0,764.0 L200.4,765.9 L203.5,768.4 L206.2,771.2 L208.5,774.6 L210.3,778.3 L211.8,782.3 L212.7,786.7 L213.2,791.3 L213.2,796.2 Z" fill="url(#pe5)" filter="url(#bl08)"/>
<g clip-path="url(#ec5)">
<ellipse cx="204" cy="790" rx="9" ry="26" fill="#c23a2c" opacity="0.55" filter="url(#bl2)" transform="rotate(0 204 790)"/>
<ellipse cx="168" cy="778" rx="10" ry="14" fill="#e07240" opacity="0.35" filter="url(#bl2)" transform="rotate(0 168 778)"/>
<ellipse cx="180" cy="830" rx="18" ry="6" fill="#c8472c" opacity="0.5" filter="url(#bl2)" transform="rotate(0 180 830)"/>
<rect x="151.2" y="758.7" width="65.9" height="81.0" fill="url(#omm)" opacity="0.7"/>
</g>
<path d="M156,766 q-2,3 -1,6" fill="none" stroke="#35281e" stroke-width="0.7" opacity="0.7" stroke-linecap="round"/>
<path d="M213,772 q3,2 3,6" fill="none" stroke="#35281e" stroke-width="0.7" opacity="0.7" stroke-linecap="round"/>
<path d="M160,834 q2,3 5,3" fill="none" stroke="#35281e" stroke-width="0.7" opacity="0.7" stroke-linecap="round"/>
<path d="M197,781 l2,4" fill="none" stroke="#35281e" stroke-width="0.7" opacity="0.7" stroke-linecap="round"/>
</g>
<defs><clipPath id="pc6"><rect x="224" y="759" width="68.3" height="81.5"/></clipPath><linearGradient id="pb6" x1="0" y1="0" x2="0.35" y2="1"><stop offset="0" stop-color="#cd9e63"/><stop offset="0.5" stop-color="#d4ab6f"/><stop offset="1" stop-color="#e0c18a"/></linearGradient><radialGradient id="pe6" cx="0.5" cy="0.45" r="0.6"><stop offset="0" stop-color="#cb6244"/><stop offset="0.6" stop-color="#c4563b"/><stop offset="1" stop-color="#b54632"/></radialGradient><clipPath id="ec6"><path d="M284.9,796.0 L285.0,801.2 L284.7,805.8 L283.9,810.1 L282.7,814.0 L281.1,817.6 L279.2,820.9 L276.9,823.8 L274.3,826.3 L271.3,828.3 L268.1,829.9 L264.6,830.9 L260.4,831.6 L256.2,831.7 L252.5,831.2 L249.1,830.2 L245.8,828.7 L242.8,826.8 L240.1,824.3 L237.6,821.4 L235.4,818.1 L233.5,814.5 L232.0,810.4 L230.9,806.0 L230.1,800.8 L229.7,795.6 L229.9,791.0 L230.5,786.8 L231.5,782.9 L233.0,779.3 L235.0,776.0 L237.3,773.1 L240.0,770.6 L243.0,768.6 L246.4,767.0 L250.2,765.9 L254.6,765.2 L259.1,765.1 L262.9,765.5 L266.6,766.5 L269.9,768.0 L273.0,770.0 L275.8,772.4 L278.3,775.3 L280.4,778.6 L282.1,782.3 L283.4,786.3 L284.4,790.8 Z"/></clipPath></defs>
<g clip-path="url(#pc6)">
<rect x="224" y="759" width="68.3" height="81.5" fill="url(#pb6)"/>
<ellipse cx="240" cy="836" rx="24" ry="7" fill="#e3c893" opacity="0.85" filter="url(#bl4)" transform="rotate(0 240 836)"/>
<ellipse cx="230" cy="770" rx="7" ry="10" fill="#d1a36c" opacity="0.5" filter="url(#bl4)" transform="rotate(0 230 770)"/>
<ellipse cx="288" cy="800" rx="5" ry="20" fill="#daba81" opacity="0.6" filter="url(#bl4)" transform="rotate(0 288 800)"/>
<path d="M287.3,795.8 L287.4,801.4 L287.0,806.3 L286.2,810.9 L284.9,815.1 L283.2,819.0 L281.0,822.5 L278.5,825.6 L275.7,828.3 L272.5,830.4 L269.0,832.1 L265.1,833.3 L260.6,834.0 L256.0,834.1 L252.1,833.6 L248.3,832.6 L244.8,831.0 L241.5,828.8 L238.5,826.2 L235.8,823.1 L233.4,819.6 L231.4,815.6 L229.8,811.3 L228.6,806.6 L227.7,801.0 L227.3,795.4 L227.5,790.5 L228.1,786.0 L229.3,781.8 L230.9,777.9 L233.0,774.4 L235.5,771.3 L238.5,768.6 L241.8,766.4 L245.5,764.7 L249.6,763.5 L254.4,762.8 L259.2,762.7 L263.5,763.2 L267.4,764.2 L271.0,765.8 L274.4,767.9 L277.4,770.5 L280.1,773.6 L282.4,777.1 L284.3,781.1 L285.7,785.4 L286.7,790.2 Z" fill="#d69c66" opacity="0.55" filter="url(#bl1)"/>
<path d="M284.9,796.0 L285.0,801.2 L284.7,805.8 L283.9,810.1 L282.7,814.0 L281.1,817.6 L279.2,820.9 L276.9,823.8 L274.3,826.3 L271.3,828.3 L268.1,829.9 L264.6,830.9 L260.4,831.6 L256.2,831.7 L252.5,831.2 L249.1,830.2 L245.8,828.7 L242.8,826.8 L240.1,824.3 L237.6,821.4 L235.4,818.1 L233.5,814.5 L232.0,810.4 L230.9,806.0 L230.1,800.8 L229.7,795.6 L229.9,791.0 L230.5,786.8 L231.5,782.9 L233.0,779.3 L235.0,776.0 L237.3,773.1 L240.0,770.6 L243.0,768.6 L246.4,767.0 L250.2,765.9 L254.6,765.2 L259.1,765.1 L262.9,765.5 L266.6,766.5 L269.9,768.0 L273.0,770.0 L275.8,772.4 L278.3,775.3 L280.4,778.6 L282.1,782.3 L283.4,786.3 L284.4,790.8 Z" fill="url(#pe6)" filter="url(#bl08)"/>
<g clip-path="url(#ec6)">
<ellipse cx="258" cy="828" rx="20" ry="5" fill="#c54a34" opacity="0.6" filter="url(#bl2)" transform="rotate(0 258 828)"/>
<rect x="224" y="759" width="68.3" height="81.5" fill="url(#omm)" opacity="0.7"/>
</g>
<path d="M276,763 q5,3 6,10" fill="none" stroke="#35281e" stroke-width="0.7" opacity="0.7" stroke-linecap="round"/>
<path d="M281,766 q5,3 6,10" fill="none" stroke="#35281e" stroke-width="0.7" opacity="0.7" stroke-linecap="round"/>
<path d="M286,774 q3,3 3,9" fill="none" stroke="#35281e" stroke-width="0.7" opacity="0.7" stroke-linecap="round"/>
<path d="M270,762 q4,1 6,5" fill="none" stroke="#35281e" stroke-width="0.7" opacity="0.7" stroke-linecap="round"/>
<path d="M229,830 q1,4 5,5" fill="none" stroke="#35281e" stroke-width="0.7" opacity="0.7" stroke-linecap="round"/>
<path d="M289,790 q2,3 1,7" fill="none" stroke="#35281e" stroke-width="0.7" opacity="0.7" stroke-linecap="round"/>
</g>
</svg></body></html>
